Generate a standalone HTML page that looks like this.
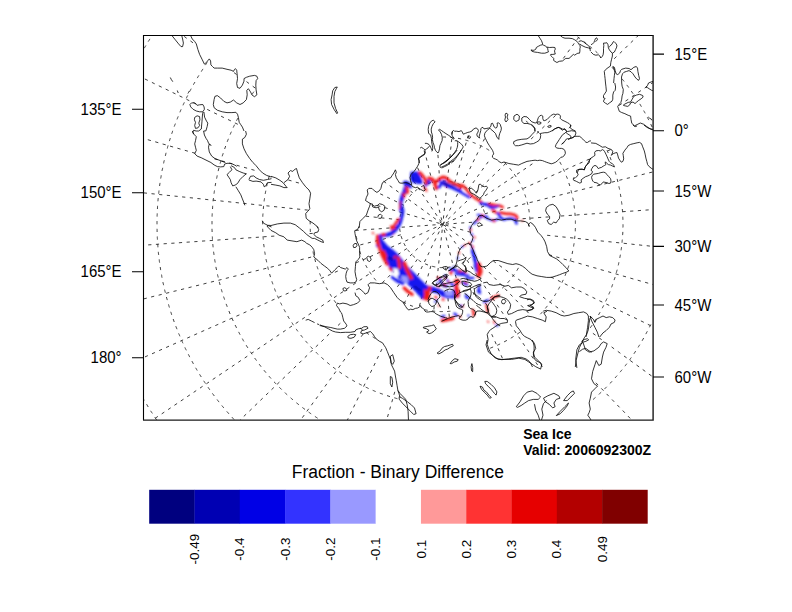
<!DOCTYPE html><html><head><meta charset="utf-8"><style>html,body{margin:0;padding:0;background:#fff;width:792px;height:612px;overflow:hidden}svg{display:block}text{font-family:"Liberation Sans",Arial,sans-serif}</style></head><body>
<svg width="792" height="612" viewBox="0 0 792 612">
<rect width="792" height="612" fill="#fff"/>
<defs><filter id="bl" x="-5%" y="-5%" width="110%" height="110%"><feGaussianBlur stdDeviation="0.85"/></filter><clipPath id="c"><rect x="143.0" y="35.0" width="510.0" height="385.0"/></clipPath></defs>
<g clip-path="url(#c)">
<path d="M406.9 248.5L404.2 250.3M400.5 252.8L397.9 254.6M394.1 257.1L391.5 258.9M387.7 261.4L385.1 263.2M381.4 265.7L378.7 267.5M375.0 270.0L372.3 271.8M368.6 274.4L365.9 276.1M362.2 278.7L359.6 280.4M355.8 283.0L353.2 284.8M349.4 287.3L346.8 289.1M343.1 291.6L340.4 293.4M336.7 295.9L334.0 297.7M330.3 300.2L327.6 302.0M323.9 304.5L321.3 306.3M317.5 308.8L314.9 310.6M311.1 313.1L308.5 314.9M304.8 317.4L302.1 319.2M298.4 321.7L295.7 323.5M292.0 326.0L289.3 327.8M285.6 330.3L283.0 332.1M279.2 334.6L276.6 336.4M272.8 338.9L270.2 340.7M266.5 343.2L263.8 345.0M260.1 347.5L257.4 349.3M253.7 351.9L251.0 353.6M247.3 356.2L244.7 358.0M240.9 360.5L238.3 362.3M234.5 364.8L231.9 366.6M228.2 369.1L225.5 370.9M221.8 373.4L219.1 375.2M215.4 377.7L212.7 379.5M209.0 382.0L206.4 383.8M202.6 386.3L200.0 388.1M196.2 390.6L193.6 392.4M189.9 394.9L187.2 396.7M183.5 399.2L180.8 401.0M177.1 403.5L174.4 405.3M170.7 407.8L168.1 409.6M164.3 412.1L161.7 413.9M157.9 416.4L155.3 418.2M440.0 227.0L437.7 229.2M434.5 232.4L432.2 234.6M428.9 237.7L426.6 239.9M423.4 243.1L421.1 245.3M417.8 248.4L415.5 250.6M412.3 253.8L410.0 256.0M406.8 259.1L404.5 261.3M401.2 264.5L398.9 266.7M395.7 269.8L393.4 272.0M390.1 275.1L387.8 277.4M384.6 280.5L382.3 282.7M340.3 323.3L338.0 325.5M329.2 334.0L326.9 336.2M323.7 339.3L321.4 341.6M318.1 344.7L315.8 346.9M312.6 350.0L310.3 352.3M307.1 355.4L304.8 357.6M301.5 360.7L299.2 363.0M296.0 366.1L293.7 368.3M290.4 371.4L288.1 373.7M284.9 376.8L282.6 379.0M279.4 382.1L277.1 384.3M273.8 387.5L271.5 389.7M268.3 392.8L266.0 395.0M262.7 398.2L260.4 400.4M257.2 403.5L254.9 405.7M251.7 408.9L249.4 411.1M246.1 414.2L243.8 416.4M240.6 419.6L240.1 420.0M417.3 259.3L415.5 261.9M412.8 265.6L410.9 268.2M408.3 271.8L406.4 274.4M403.8 278.0L401.9 280.6M399.2 284.3L397.4 286.8M363.0 334.1L361.2 336.7M358.5 340.3L356.6 342.9M354.0 346.5L352.1 349.1M349.5 352.8L347.6 355.4M344.9 359.0L343.0 361.6M340.4 365.2L338.5 367.8M335.9 371.5L334.0 374.1M331.4 377.7L329.5 380.3M326.8 383.9L324.9 386.5M322.3 390.2L320.4 392.7M317.8 396.4L315.9 399.0M313.2 402.6L311.4 405.2M308.7 408.8L306.8 411.4M304.2 415.1L302.3 417.7M442.7 224.6L441.3 227.4M439.3 231.5L437.9 234.4M435.9 238.4L434.5 241.3M432.5 245.3L431.1 248.2M429.2 252.3L427.8 255.1M425.8 259.2L424.4 262.0M422.4 266.1L421.0 269.0M419.0 273.0L417.6 275.9M415.7 279.9L414.3 282.8M412.3 286.9L410.9 289.7M408.9 293.8L407.5 296.7M405.5 300.7L404.1 303.6M381.9 349.1L380.5 352.0M378.5 356.1L377.1 358.9M375.2 363.0L373.8 365.9M371.8 369.9L370.4 372.8M368.4 376.8L367.0 379.7M365.0 383.7L363.6 386.6M361.7 390.7L360.3 393.5M358.3 397.6L356.9 400.5M354.9 404.5L353.5 407.4M351.5 411.4L350.1 414.3M348.2 418.3L347.4 420.0M430.9 265.9L430.0 269.0M428.7 273.3L427.9 276.4M426.6 280.7L425.7 283.8M424.5 288.1L423.6 291.2M422.4 295.5L421.5 298.6M420.3 302.9L419.4 306.0M394.8 391.8L393.9 394.8M392.7 399.2L391.8 402.2M390.5 406.6L389.7 409.6M388.4 414.0L387.5 417.0M442.8 224.3L442.7 225.2M442.2 229.7L441.9 232.9M441.4 237.3L441.1 240.5M440.6 245.0L440.3 248.2M439.8 252.6L439.5 255.8M439.0 260.3L438.7 263.5M438.2 268.0L437.9 271.1M437.4 275.6L437.1 278.8M436.6 283.3L436.3 286.5M434.2 306.2L433.9 309.4M445.8 267.5L446.0 270.7M446.4 275.2L446.6 278.4M447.4 290.5L447.7 293.7M448.0 298.2L448.2 301.4M448.5 305.9L448.7 309.1M449.0 313.6L449.3 316.8M442.8 224.3L443.1 225.6M444.2 229.9L445.0 233.0M446.1 237.4L446.8 240.5M447.9 244.9L448.7 248.0M449.8 252.3L450.6 255.4M451.7 259.8L452.4 262.9M453.5 267.3L454.3 270.4M455.4 274.8L456.2 277.9M457.2 282.2L458.0 285.3M459.1 289.7L459.9 292.8M463.5 270.9L464.8 273.8M466.7 277.9L468.0 280.9M469.8 285.0L471.1 287.9M472.9 292.0L474.2 294.9M491.7 334.2L493.0 337.1M494.9 341.2L496.2 344.2M498.0 348.3L499.3 351.2M501.1 355.3L502.4 358.2M442.8 224.3L442.9 224.5M445.4 228.2L447.2 230.8M449.7 234.6L451.5 237.2M454.0 241.0L455.8 243.6M458.3 247.3L460.1 250.0M462.7 253.7L464.4 256.4M467.0 260.1L468.7 262.8M471.3 266.5L473.1 269.2M475.6 272.9L477.4 275.5M479.9 279.3L481.7 281.9M484.2 285.6L486.0 288.3M488.5 292.0L490.3 294.7M492.8 298.4L494.6 301.1M497.1 304.8L498.9 307.5M501.4 311.2L503.2 313.8M505.7 317.6L507.5 320.2M510.0 324.0L511.8 326.6M514.3 330.3L516.1 333.0M518.6 336.7L520.4 339.4M522.9 343.1L524.7 345.8M527.2 349.5L529.0 352.1M531.5 355.9L533.3 358.5M535.8 362.3L537.6 364.9M472.9 255.5L475.1 257.8M483.6 266.5L485.8 268.8M488.9 272.1L491.2 274.4M494.3 277.6L496.5 279.9M499.6 283.1L501.9 285.4M505.0 288.7L507.2 291.0M510.3 294.2L512.5 296.5M515.7 299.8L517.9 302.1M521.0 305.3L523.2 307.6M526.4 310.8L528.6 313.1M595.9 382.8L598.1 385.1M601.3 388.4L603.5 390.7M606.6 393.9L608.8 396.2M612.0 399.5L614.2 401.8M617.3 405.0L619.5 407.3M622.7 410.5L624.9 412.8M628.0 416.1L630.2 418.4M443.4 224.7L446.0 226.6M449.6 229.2L452.2 231.1M455.8 233.8L458.4 235.6M462.1 238.3L464.6 240.2M468.3 242.8L470.9 244.7M493.2 260.9L495.8 262.8M499.4 265.4L502.0 267.3M505.7 270.0L508.2 271.9M511.9 274.5L514.5 276.4M518.1 279.0L520.7 280.9M524.3 283.5L526.9 285.4M530.6 288.1L533.2 290.0M536.8 292.6L539.4 294.5M543.0 297.1L545.6 299.0M549.3 301.7L551.9 303.5M555.5 306.2L558.1 308.1M561.7 310.7L564.3 312.6M592.9 333.3L595.5 335.2M599.1 337.9L601.7 339.7M611.6 346.9L614.1 348.8M617.8 351.4L620.4 353.3M624.0 356.0L626.6 357.8M630.2 360.5L632.8 362.4M636.5 365.0L639.1 366.9M642.7 369.5L645.3 371.4M648.9 374.1L651.5 375.9M550.9 277.0L553.8 278.4M557.9 280.4L560.7 281.8M564.8 283.8L567.6 285.2M571.7 287.2L574.6 288.6M578.6 290.5L581.5 291.9M585.5 293.9L588.4 295.3M592.5 297.3L595.3 298.7M599.4 300.7L602.3 302.1M606.3 304.0L609.2 305.4M613.2 307.4L616.1 308.8M620.1 310.8L623.0 312.2M627.1 314.2L629.9 315.6M634.0 317.5L636.9 318.9M640.9 320.9L643.8 322.3M647.8 324.3L650.7 325.7M445.3 225.0L448.4 225.9M452.7 227.1L455.8 228.0M460.1 229.3L463.2 230.1M467.5 231.4L470.6 232.3M548.9 254.7L552.0 255.6M556.3 256.9L559.4 257.7M563.7 259.0L566.8 259.9M571.1 261.1L574.2 262.0M578.5 263.2L581.6 264.1M585.9 265.3L589.0 266.2M593.3 267.5L596.4 268.3M600.7 269.6L603.8 270.5M608.1 271.7L611.2 272.6M615.5 273.8L618.6 274.7M622.9 276.0L626.0 276.8M630.3 278.1L633.4 279.0M637.7 280.2L640.8 281.1M645.1 282.3L648.2 283.2M652.5 284.4L653.0 284.6M547.1 235.3L550.3 235.6M554.8 236.1L558.0 236.4M562.4 236.9L565.6 237.2M570.1 237.7L573.3 238.0M577.8 238.5L580.9 238.8M585.4 239.3L588.6 239.6M593.1 240.1L596.3 240.4M600.7 240.9L603.9 241.2M608.4 241.7L611.6 242.0M616.1 242.5L619.2 242.8M623.7 243.3L626.9 243.6M631.4 244.1L634.6 244.5M639.0 244.9L642.2 245.3M646.7 245.7L649.9 246.1M445.8 224.1L449.0 223.9M453.5 223.6L456.7 223.3M461.2 223.0L464.3 222.8M468.8 222.5L472.0 222.3M514.9 219.3L518.1 219.0M522.6 218.7L525.8 218.5M530.3 218.2L533.5 218.0M538.0 217.6L541.2 217.4M545.6 217.1L548.8 216.9M561.0 216.0L564.2 215.8M568.7 215.5L571.9 215.3M576.4 215.0L579.6 214.7M584.1 214.4L587.2 214.2M591.7 213.9L594.9 213.7M599.4 213.3L602.6 213.1M607.1 212.8L610.3 212.6M614.8 212.3L618.0 212.1M622.5 211.7L625.7 211.5M630.1 211.2L633.3 211.0M637.8 210.7L641.0 210.4M645.5 210.1L648.7 209.9M484.8 213.8L487.9 213.0M492.3 212.0L495.4 211.2M499.8 210.1L502.9 209.3M507.2 208.2L510.3 207.5M514.7 206.4L517.8 205.6M522.2 204.5L525.3 203.7M529.6 202.6L532.8 201.9M537.1 200.8L540.2 200.0M544.6 198.9L547.7 198.1M552.1 197.1L555.2 196.3M559.5 195.2L562.6 194.4M567.0 193.3L570.1 192.6M574.5 191.5L577.6 190.7M581.9 189.6L585.1 188.8M589.4 187.7L592.5 187.0M596.9 185.9L600.0 185.1M604.4 184.0L607.5 183.2M611.8 182.2L614.9 181.4M619.3 180.3L622.4 179.5M626.8 178.4L629.9 177.7M634.2 176.6L637.4 175.8M641.7 174.7L644.8 173.9M649.2 172.8L652.3 172.1M445.9 222.9L448.8 221.6M452.9 219.8L455.9 218.5M460.0 216.7L462.9 215.4M467.0 213.5L469.9 212.2M474.0 210.4L477.0 209.1M481.1 207.3L484.0 206.0M488.1 204.1L491.0 202.8M495.1 201.0L498.1 199.7M502.2 197.9L505.1 196.6M509.2 194.7L512.1 193.4M516.2 191.6L519.2 190.3M523.3 188.5L526.2 187.2M530.3 185.3L533.2 184.0M537.4 182.2L540.3 180.9M544.4 179.1L547.3 177.8M551.4 175.9L554.3 174.6M558.5 172.8L561.4 171.5M565.5 169.7L568.4 168.4M572.5 166.5L575.4 165.2M579.6 163.4L582.5 162.1M586.6 160.3L589.5 159.0M607.7 150.9L610.6 149.6M478.7 200.1L481.4 198.3M485.1 195.8L487.7 194.0M491.5 191.5L494.1 189.7M497.9 187.2L500.5 185.4M504.2 182.9L506.9 181.1M510.6 178.6L513.3 176.8M517.0 174.2L519.7 172.5M523.4 169.9L526.0 168.2M529.8 165.6L532.4 163.8M561.7 144.1L564.3 142.3M568.1 139.8L570.7 138.0M619.1 105.4L621.8 103.6M625.5 101.1L628.2 99.3M631.9 96.7L634.6 95.0M638.3 92.4L640.9 90.6M644.7 88.1L647.3 86.3M651.1 83.8L653.0 82.5M442.8 224.3L444.8 222.4M448.1 219.2L450.4 217.0M453.6 213.9L455.9 211.7M459.1 208.5L461.4 206.3M464.7 203.2L467.0 201.0M470.2 197.8L472.5 195.6M475.7 192.5L478.0 190.3M481.3 187.1L483.6 184.9M486.8 181.8L489.1 179.6M492.4 176.4L494.7 174.2M497.9 171.1L500.2 168.9M503.4 165.7L505.7 163.5M531.1 139.0L533.4 136.8M536.7 133.6L539.0 131.4M542.2 128.3L544.5 126.1M547.8 122.9L550.1 120.7M553.3 117.6L555.6 115.4M614.2 58.8L616.5 56.5M619.8 53.4L622.1 51.2M625.3 48.1L627.6 45.8M630.8 42.7L633.1 40.5M636.4 37.4L638.7 35.1M468.3 189.3L470.1 186.7M472.8 183.0L474.7 180.4M477.3 176.8L479.2 174.2M481.8 170.6L483.7 168.0M486.4 164.3L488.2 161.8M563.3 58.4L565.2 55.9M567.8 52.2L569.7 49.6M572.4 46.0L574.2 43.4M576.9 39.8L578.8 37.2M442.8 224.3L444.1 221.6M446.1 217.6L447.5 214.7M449.5 210.6L450.9 207.8M452.8 203.7L454.2 200.8M456.2 196.8L457.6 193.9M459.6 189.9L461.0 187.0M463.0 183.0L464.4 180.1M466.3 176.0L467.7 173.2M469.7 169.1L471.1 166.2M473.1 162.2L474.5 159.3M476.5 155.3L477.9 152.4M479.8 148.4L481.2 145.5M483.2 141.4L484.6 138.6M454.7 182.7L455.6 179.6M456.9 175.3L457.7 172.2M459.0 167.9L459.9 164.8M461.1 160.5L462.0 157.4M463.2 153.1L464.1 150.0M465.3 145.7L466.2 142.6M467.5 138.3L468.4 135.2M442.8 224.3L442.9 223.1M443.4 218.6L443.7 215.4M444.2 211.0L444.5 207.8M445.0 203.3L445.3 200.1M445.8 195.7L446.1 192.5M446.6 188.0L446.9 184.8M447.4 180.3L447.8 177.2M448.2 172.7L448.6 169.5M449.0 165.0L449.4 161.8M449.8 157.4L450.2 154.2M450.6 149.7L451.0 146.5M451.4 142.1L451.8 138.9M452.2 134.4L452.6 131.2M439.8 181.1L439.6 177.9M439.2 173.4L439.0 170.2M438.7 165.7L438.5 162.5M438.2 158.1L437.9 154.9M441.8 220.4L441.1 217.3M440.0 212.9L439.2 209.8M438.1 205.5L437.3 202.4M436.2 198.0L435.5 194.9M434.4 190.5L433.6 187.4M432.5 183.1L431.7 180.0M430.7 175.6L429.9 172.5M428.8 168.1L428.0 165.0M426.9 160.6L426.2 157.5M425.2 184.7L423.9 181.8M422.1 177.7L420.8 174.8M418.9 170.7L417.6 167.7M441.3 222.1L439.6 219.5M437.0 215.8L435.3 213.1M432.7 209.4L430.9 206.7M428.4 203.0L426.6 200.3M424.1 196.6L422.3 194.0M419.8 190.2L418.0 187.6M415.5 183.8L413.7 181.2M412.7 193.1L410.5 190.8M407.4 187.6L405.1 185.3M442.2 223.8L439.6 221.9M435.9 219.3L433.3 217.4M429.7 214.8L427.1 212.9M423.5 210.3L420.9 208.4M417.2 205.7L414.6 203.8M411.0 201.2L408.4 199.3M404.8 196.7L402.2 194.8M398.5 192.1L396.0 190.3M392.3 187.6L389.7 185.7M386.1 183.1L383.5 181.2M255.3 88.1L252.7 86.2M249.0 83.5L246.5 81.6M236.6 74.5L234.0 72.6M193.0 42.8L190.4 40.9M186.7 38.3L184.2 36.4M403.9 205.3L401.0 203.9M397.0 201.9L394.1 200.5M390.0 198.6L387.2 197.2M383.1 195.2L380.2 193.8M237.8 124.3L234.9 122.9M230.9 120.9L228.0 119.5M223.9 117.6L221.1 116.2M217.0 114.2L214.1 112.8M210.1 110.8L207.2 109.4M196.3 104.1L193.4 102.6M189.3 100.7L186.5 99.3M182.4 97.3L179.5 95.9M175.5 93.9L172.6 92.5M168.6 90.5L165.7 89.1M161.7 87.2L158.8 85.8M154.7 83.8L151.9 82.4M147.8 80.4L144.9 79.0M439.5 223.4L436.5 222.5M432.1 221.2L429.1 220.4M424.7 219.1L421.7 218.2M417.3 217.0L414.3 216.1M409.9 214.9L406.8 214.0M402.5 212.8L399.4 211.9M395.1 210.6L392.0 209.7M387.7 208.5L384.6 207.6M380.3 206.4L377.2 205.5M372.9 204.3L369.8 203.4M298.9 183.0L295.8 182.2M291.5 180.9L288.4 180.0M254.5 170.3L251.4 169.4M247.1 168.2L244.0 167.3M239.7 166.1L236.6 165.2M232.3 163.9L229.2 163.1M224.9 161.8L221.8 160.9M217.5 159.7L214.4 158.8M195.3 153.3L192.2 152.4M187.9 151.2L184.8 150.3M180.5 149.1L177.4 148.2M173.1 147.0L170.0 146.1M165.7 144.8L162.6 144.0M158.3 142.7L155.2 141.8M150.9 140.6L147.8 139.7M143.5 138.5L143.0 138.3M399.7 219.8L396.5 219.4M392.1 219.0L388.9 218.6M384.4 218.2L381.2 217.8M376.8 217.4L373.6 217.0M369.1 216.6L365.9 216.2M307.8 210.1L304.7 209.8M300.2 209.3L297.0 209.0M292.5 208.5L289.3 208.2M284.9 207.7L281.7 207.4M277.2 206.9L274.0 206.6M269.5 206.1L266.4 205.8M261.9 205.3L258.7 205.0M254.2 204.5L251.0 204.1M246.6 203.7L243.4 203.3M238.9 202.9L235.7 202.5M231.3 202.1L228.1 201.7M223.6 201.3L220.4 200.9M215.9 200.5L212.8 200.1M208.3 199.7L205.1 199.3M200.6 198.8L197.4 198.5M193.0 198.0L189.8 197.7M185.3 197.2L182.1 196.9M177.7 196.4L174.5 196.1M170.0 195.6L166.8 195.3M162.3 194.8L159.2 194.5M154.7 194.0L151.5 193.7M147.0 193.2L143.8 192.9M442.8 224.3L440.1 224.5M435.6 224.8L432.4 225.0M427.9 225.3L424.7 225.6M420.3 225.9L417.1 226.1M412.6 226.4L409.4 226.6M404.9 227.0L401.7 227.2M397.2 227.5L394.0 227.7M389.5 228.0L386.3 228.2M381.8 228.6L378.7 228.8M374.2 229.1L371.0 229.3M366.5 229.6L363.3 229.9M358.8 230.2L355.6 230.4M312.7 233.4L309.5 233.6M274.3 236.1L271.1 236.3M266.6 236.6L263.4 236.8M258.9 237.2L255.8 237.4M251.3 237.7L248.1 237.9M243.6 238.2L240.4 238.5M235.9 238.8L232.7 239.0M228.2 239.3L225.0 239.5M220.5 239.8L217.4 240.1M212.9 240.4L209.7 240.6M205.2 240.9L202.0 241.1M197.5 241.5L194.3 241.7M189.8 242.0L186.6 242.2M182.1 242.5L178.9 242.8M174.5 243.1L171.3 243.3M166.8 243.6L163.6 243.8M159.1 244.1L155.9 244.4M151.4 244.7L148.2 244.9M143.7 245.2L143.0 245.3M400.8 234.8L397.7 235.6M393.3 236.6L390.2 237.4M385.8 238.5L382.7 239.3M378.4 240.4L375.3 241.1M370.9 242.2L367.8 243.0M363.4 244.1L360.3 244.9M311.1 257.1L308.0 257.9M303.7 259.0L300.5 259.8M296.2 260.9L293.1 261.6M288.7 262.7L285.6 263.5M281.2 264.6L278.1 265.4M273.8 266.4L270.7 267.2M266.3 268.3L263.2 269.1M258.8 270.2L255.7 270.9M251.4 272.0L248.2 272.8M243.9 273.9L240.8 274.7M236.4 275.8L233.3 276.5M228.9 277.6L225.8 278.4M221.5 279.5L218.4 280.3M214.0 281.3L210.9 282.1M206.5 283.2L203.4 284.0M199.1 285.1L196.0 285.8M191.6 286.9L188.5 287.7M184.1 288.8L181.0 289.6M176.6 290.7L173.5 291.4M169.2 292.5L166.1 293.3M161.7 294.4L158.6 295.2M154.2 296.2L151.1 297.0M146.8 298.1L143.7 298.9M442.8 224.3L440.4 225.4M436.3 227.2L433.4 228.5M429.3 230.3L426.4 231.6M422.2 233.5L419.3 234.8M415.2 236.6L412.3 237.9M408.2 239.7L405.3 241.0M401.1 242.8L398.2 244.1M394.1 246.0L391.2 247.3M387.1 249.1L384.2 250.4M380.0 252.2L377.1 253.5M373.0 255.4L370.1 256.7M366.0 258.5L363.0 259.8M358.9 261.6L356.0 262.9M337.8 271.0L334.9 272.3M330.8 274.2L327.9 275.5M323.8 277.3L320.8 278.6M316.7 280.4L313.8 281.7M309.7 283.6L306.8 284.9M302.7 286.7L299.7 288.0M295.6 289.8L292.7 291.1M288.6 293.0L285.7 294.3M281.6 296.1L278.6 297.4M274.5 299.2L271.6 300.5M267.5 302.4L264.6 303.7M260.5 305.5L257.5 306.8M253.4 308.6L250.5 309.9M246.4 311.7L243.5 313.0M239.4 314.9L236.4 316.2M232.3 318.0L229.4 319.3M225.3 321.1L222.4 322.4M218.3 324.3L215.3 325.6M211.2 327.4L208.3 328.7M204.2 330.5L201.3 331.8M197.1 333.7L194.2 335.0M190.1 336.8L187.2 338.1M183.1 339.9L180.2 341.2M176.0 343.1L173.1 344.4M169.0 346.2L166.1 347.5M162.0 349.3L159.1 350.6M154.9 352.5L152.0 353.8M147.9 355.6L145.0 356.9M144.2 48.2L144.8 47.3L145.3 46.4L145.9 45.5M148.2 41.6L148.8 40.7L149.4 39.8L149.9 38.9M156.6 419.9L156.0 419.0L155.4 418.1L154.8 417.2M152.4 413.4L151.8 412.6L151.2 411.7L150.6 410.8M148.2 407.0L147.7 406.0L147.1 405.1L146.6 404.2M144.2 400.4L143.7 399.5L143.2 398.5L142.6 397.6M157.0 224.3L157.0 223.2L157.0 222.2L157.0 221.1M157.1 216.6L157.1 215.6L157.2 214.5L157.2 213.4M157.4 209.0L157.5 207.9L157.5 206.8L157.6 205.8M157.9 201.3L158.0 200.2L158.1 199.2L158.2 198.1M158.7 193.7L158.8 192.6L158.9 191.6L159.0 190.5M159.6 186.0L159.7 185.0L159.9 183.9L160.0 182.9M160.7 178.5L160.9 177.4L161.1 176.4L161.2 175.3M162.0 170.9L162.2 169.9L162.5 168.8L162.7 167.8M163.6 163.4L163.8 162.3L164.0 161.3L164.3 160.3M165.3 155.9L165.6 154.9L165.8 153.8L166.1 152.8M167.3 148.5L167.5 147.5L167.8 146.4L168.1 145.4M169.4 141.1L169.7 140.1L170.0 139.1L170.3 138.1M171.7 133.8L172.1 132.8L172.4 131.8L172.7 130.8M174.2 126.6L174.6 125.6L175.0 124.6L175.4 123.6M177.0 119.4L177.4 118.4L177.8 117.4L178.2 116.4M179.9 112.3L180.3 111.3L180.7 110.3L181.1 109.4M183.0 105.3L183.4 104.3L183.9 103.3L184.3 102.4M186.3 98.3L186.7 97.4L187.2 96.4L187.7 95.5M189.7 91.5L190.2 90.5L190.7 89.6L191.2 88.7M193.4 84.7L193.9 83.8L194.4 82.9L195.0 82.0M197.2 78.1L197.8 77.2L198.3 76.3L198.9 75.4M201.3 71.6L201.8 70.7L202.4 69.8L203.0 68.9M205.4 65.1L206.0 64.2L206.6 63.4L207.2 62.5M234.0 419.5L233.3 418.7L232.6 417.9L231.9 417.1M228.9 413.8L228.2 413.0L227.5 412.2L226.8 411.4M223.9 408.0L223.2 407.2L222.5 406.4L221.8 405.5M219.0 402.1L218.4 401.2L217.7 400.4L217.1 399.5M214.3 396.0L213.7 395.1L213.1 394.3L212.4 393.4M209.8 389.8L209.2 388.9L208.6 388.1L208.0 387.2M205.4 383.5L204.9 382.6L204.3 381.7L203.7 380.8M201.3 377.0L200.7 376.1L200.1 375.2L199.6 374.3M197.2 370.5L196.7 369.6L196.2 368.7L195.6 367.8M193.4 363.9L192.9 362.9L192.4 362.0L191.9 361.1M189.7 357.1L189.3 356.2L188.8 355.2L188.3 354.3M186.3 350.3L185.8 349.3L185.3 348.4L184.9 347.4M183.0 343.3L182.5 342.4L182.1 341.4L181.7 340.4M179.9 336.3L179.5 335.3L179.1 334.4L178.6 333.4M177.0 329.2L176.6 328.2L176.2 327.2L175.8 326.2M174.2 322.0L173.9 321.0L173.5 320.0L173.2 319.0M171.7 314.8L171.4 313.8L171.1 312.8L170.7 311.8M169.4 307.5L169.1 306.5L168.8 305.5L168.5 304.4M167.3 300.1L167.0 299.1L166.7 298.1L166.4 297.0M165.3 292.7L165.1 291.7L164.8 290.6L164.6 289.6M163.6 285.2L163.4 284.2L163.1 283.1L162.9 282.1M162.0 277.7L161.8 276.7L161.7 275.6L161.5 274.6M160.7 270.1L160.5 269.1L160.4 268.0L160.2 267.0M159.6 262.6L159.4 261.5L159.3 260.4L159.2 259.4M158.7 254.9L158.5 253.9L158.4 252.8L158.3 251.8M157.9 247.3L157.9 246.2L157.8 245.2L157.7 244.1M157.4 239.6L157.4 238.6L157.3 237.5L157.3 236.5M157.1 232.0L157.1 230.9L157.1 229.8L157.0 228.8M212.0 224.3L212.0 223.2L212.0 222.2L212.0 221.1M212.1 216.6L212.1 215.6L212.2 214.5L212.2 213.4M212.5 209.0L212.6 207.9L212.6 206.8L212.7 205.8M213.1 201.3L213.2 200.3L213.3 199.2L213.5 198.1M214.0 193.7L214.2 192.6L214.3 191.6L214.5 190.5M215.2 186.1L215.3 185.1L215.5 184.0L215.7 183.0M216.6 178.6L216.8 177.5L217.0 176.5L217.2 175.4M218.2 171.1L218.4 170.0L218.7 169.0L219.0 168.0M220.1 163.6L220.4 162.6L220.7 161.6L221.0 160.6M222.2 156.3L222.5 155.2L222.9 154.2L223.2 153.2M224.6 149.0L225.0 148.0L225.3 147.0L225.7 146.0M227.2 141.8L227.6 140.8L228.0 139.8L228.4 138.8M230.1 134.6L230.5 133.7L230.9 132.7L231.4 131.7M233.2 127.6L233.6 126.7L234.1 125.7L234.6 124.7M236.5 120.7L237.0 119.8L237.5 118.8L238.0 117.9M252.1 94.3L252.7 93.4L253.3 92.5L253.9 91.7M577.5 36.9L578.4 37.5L579.3 38.1L580.1 38.8M583.7 41.5L584.5 42.1L585.4 42.8L586.2 43.4M589.7 46.3L590.5 46.9L591.3 47.6L592.1 48.3M595.5 51.2L596.3 51.9L597.1 52.6L597.9 53.4M612.0 67.3L612.7 68.1L613.4 68.9L614.2 69.7M622.1 78.9L622.7 79.7L623.4 80.5L624.1 81.4M626.8 84.9L627.4 85.8L628.1 86.6L628.7 87.5M631.3 91.1L631.9 92.0L632.5 92.9L633.1 93.7M639.8 103.9L640.3 104.8L640.9 105.8L641.4 106.7M643.7 110.6L644.2 111.5L644.7 112.4L645.2 113.3M647.3 117.3L647.8 118.2L648.3 119.2L648.8 120.1M650.8 124.1L651.2 125.1L651.7 126.1L652.1 127.0M650.8 324.5L650.3 325.4L649.8 326.4L649.4 327.3M647.3 331.3L646.8 332.2L646.3 333.2L645.8 334.1M643.7 338.0L643.1 339.0L642.6 339.9L642.1 340.8M639.8 344.7L639.2 345.6L638.6 346.5L638.1 347.4M635.6 351.1L635.1 352.0L634.5 352.9L633.9 353.8M631.3 357.5L630.7 358.3L630.1 359.2L629.5 360.1M626.8 363.7L626.2 364.5L625.5 365.4L624.9 366.2M622.1 369.7L621.4 370.5L620.7 371.4L620.0 372.2M617.1 375.6L616.4 376.4L615.7 377.2L615.0 378.0M612.0 381.3L611.3 382.1L610.6 382.9L609.8 383.6M606.7 386.8L605.9 387.6L605.2 388.3L604.4 389.1M601.2 392.2L600.4 392.9L599.6 393.6L598.9 394.4M595.5 397.4L594.7 398.1L593.9 398.8L593.1 399.5M317.6 418.2L316.7 417.6L315.8 417.0L314.9 416.4M311.2 413.9L310.3 413.3L309.5 412.7L308.6 412.1M305.0 409.4L304.1 408.8L303.3 408.2L302.4 407.5M298.9 404.8L298.1 404.1L297.2 403.4L296.4 402.8M293.0 399.9L292.2 399.2L291.4 398.5L290.6 397.8M287.2 394.8L286.4 394.1L285.6 393.4L284.9 392.6M281.6 389.5L280.9 388.8L280.1 388.0L279.4 387.3M276.2 384.1L275.5 383.3L274.8 382.5L274.0 381.8M271.0 378.5L270.3 377.7L269.6 376.9L268.9 376.1M266.0 372.7L265.3 371.9L264.6 371.0L263.9 370.2M261.1 366.7L260.5 365.9L259.8 365.0L259.2 364.2M256.5 360.6L255.9 359.7L255.3 358.9L254.6 358.0M252.1 354.3L251.5 353.4L250.9 352.6L250.3 351.7M247.9 347.9L247.3 347.0L246.7 346.1L246.2 345.2M243.9 341.4L243.3 340.5L242.8 339.5L242.3 338.6M240.1 334.7L239.6 333.8L239.1 332.8L238.6 331.9M236.5 327.9L236.1 326.9L235.6 326.0L235.1 325.0M233.2 321.0L232.8 320.0L232.3 319.0L231.9 318.1M230.1 314.0L229.7 313.0L229.3 312.0L228.9 311.0M227.2 306.8L226.9 305.8L226.5 304.9L226.1 303.9M224.6 299.6L224.3 298.6L223.9 297.6L223.6 296.6M222.2 292.3L221.9 291.3L221.6 290.3L221.3 289.3M220.1 285.0L219.8 283.9L219.5 282.9L219.3 281.9M218.2 277.5L218.0 276.5L217.7 275.5L217.5 274.4M216.6 270.0L216.3 269.0L216.1 268.0L215.9 266.9M215.2 262.5L215.0 261.4L214.8 260.4L214.7 259.3M214.0 254.9L213.9 253.8L213.7 252.8L213.6 251.7M213.1 247.3L213.0 246.2L212.9 245.2L212.8 244.1M212.5 239.6L212.4 238.6L212.4 237.5L212.3 236.5M212.1 232.0L212.1 230.9L212.0 229.8L212.0 228.8M262.6 224.3L262.6 223.2L262.6 222.2L262.7 221.1M262.8 216.7L262.8 215.6L262.9 214.5L263.0 213.5M263.3 209.0L263.4 208.0L263.5 206.9L263.6 205.9M264.1 201.4L264.2 200.4L264.4 199.3L264.5 198.3M265.2 193.9L265.4 192.8L265.6 191.8L265.8 190.7M266.7 186.3L266.9 185.3L267.1 184.3L267.4 183.2M268.4 178.9L268.7 177.9L269.0 176.9L269.3 175.8M607.0 150.1L607.4 151.1L607.8 152.0L608.3 153.0M610.0 157.1L610.4 158.1L610.8 159.1L611.1 160.1M615.1 171.5L615.4 172.6L615.7 173.6L616.0 174.6M617.2 178.9L617.4 179.9L617.7 181.0L617.9 182.0M618.9 186.3L619.1 187.4L619.4 188.4L619.6 189.5M620.4 193.9L620.5 194.9L620.7 195.9L620.9 197.0M621.5 201.4L621.6 202.5L621.8 203.5L621.9 204.6M622.3 209.0L622.4 210.1L622.5 211.1L622.6 212.2M622.8 216.7L622.8 217.7L622.9 218.8L622.9 219.8M623.0 224.3L623.0 225.4L623.0 226.4L622.9 227.5M622.8 231.9L622.8 233.0L622.7 234.1L622.6 235.1M622.3 239.6L622.2 240.6L622.1 241.7L622.0 242.7M621.5 247.2L621.4 248.2L621.2 249.3L621.1 250.3M620.4 254.7L620.2 255.8L620.0 256.8L619.8 257.9M618.9 262.3L618.7 263.3L618.5 264.3L618.2 265.4M617.2 269.7L616.9 270.7L616.6 271.7L616.3 272.8M615.1 277.1L614.8 278.1L614.4 279.1L614.1 280.1M612.7 284.3L612.3 285.3L612.0 286.3L611.6 287.3M610.0 291.5L609.6 292.5L609.2 293.4L608.8 294.4M607.0 298.5L606.5 299.5L606.1 300.4L605.6 301.4M603.7 305.4L603.2 306.4L602.7 307.3L602.2 308.2M600.1 312.2L599.6 313.1L599.0 314.0L598.5 314.9M596.2 318.8L595.7 319.7L595.1 320.6L594.5 321.5M592.1 325.2L591.5 326.1L590.9 326.9L590.3 327.8M397.4 398.7L396.4 398.4L395.4 398.1L394.3 397.8M390.0 396.6L389.0 396.3L388.0 395.9L387.0 395.6M382.8 394.2L381.8 393.8L380.8 393.5L379.8 393.1M375.6 391.5L374.6 391.1L373.7 390.7L372.7 390.3M368.6 388.5L367.6 388.0L366.7 387.6L365.7 387.1M361.7 385.2L360.7 384.7L359.8 384.2L358.9 383.7M354.9 381.6L354.0 381.1L353.1 380.5L352.2 380.0M348.3 377.7L347.4 377.2L346.5 376.6L345.6 376.0M341.9 373.6L341.0 373.0L340.2 372.4L339.3 371.8M335.7 369.2L334.8 368.5L334.0 367.9L333.1 367.2M329.6 364.5L328.8 363.8L328.0 363.1L327.2 362.5M323.8 359.5L323.0 358.8L322.2 358.1L321.4 357.4M318.1 354.4L317.4 353.6L316.6 352.9L315.9 352.2M312.7 349.0L312.0 348.2L311.3 347.4L310.5 346.6M307.6 343.3L306.9 342.5L306.2 341.7L305.5 340.9M302.6 337.5L302.0 336.7L301.3 335.8L300.6 335.0M297.9 331.4L297.3 330.6L296.7 329.7L296.1 328.9M293.5 325.2L292.9 324.3L292.4 323.4L291.8 322.5M289.4 318.8L288.8 317.9L288.3 317.0L287.7 316.0M285.5 312.2L285.0 311.2L284.5 310.3L284.0 309.4M281.9 305.4L281.5 304.5L281.0 303.5L280.5 302.6M278.6 298.5L278.2 297.5L277.8 296.6L277.3 295.6M275.6 291.5L275.2 290.5L274.8 289.5L274.5 288.5M272.9 284.3L272.6 283.3L272.2 282.3L271.9 281.3M270.5 277.1L270.2 276.0L269.9 275.0L269.6 274.0M268.4 269.7L268.2 268.7L267.9 267.6L267.7 266.6M266.7 262.3L266.5 261.2L266.2 260.2L266.0 259.1M265.2 254.7L265.1 253.7L264.9 252.7L264.7 251.6M264.1 247.2L264.0 246.1L263.8 245.1L263.7 244.0M263.3 239.6L263.2 238.5L263.1 237.5L263.0 236.4M262.8 231.9L262.8 230.9L262.7 229.8L262.7 228.8M310.2 224.3L310.2 223.2L310.2 222.2L310.2 221.1M525.9 120.9L526.7 121.6L527.6 122.3L528.4 123.0M537.3 131.2L538.0 131.9L538.7 132.7L539.5 133.5M559.8 161.9L560.3 162.8L560.8 163.8L561.3 164.7M563.2 168.7L563.7 169.7L564.1 170.7L564.5 171.6M566.2 175.8L566.6 176.7L567.0 177.7L567.4 178.7M568.8 183.0L569.2 184.0L569.5 185.0L569.8 186.0M571.0 190.3L571.3 191.3L571.5 192.3L571.8 193.4M572.7 197.7L573.0 198.8L573.2 199.8L573.3 200.8M574.1 205.3L574.2 206.3L574.3 207.4L574.5 208.4M574.9 212.8L575.0 213.9L575.1 215.0L575.2 216.0M575.4 220.5L575.4 221.5L575.4 222.6L575.4 223.7M575.4 228.1L575.3 229.2L575.3 230.2L575.3 231.3M574.9 235.8L574.8 236.8L574.7 237.9L574.6 238.9M574.1 243.3L573.9 244.4L573.7 245.4L573.6 246.5M572.7 250.9L572.5 251.9L572.3 253.0L572.1 254.0M571.0 258.3L570.7 259.3L570.4 260.4L570.1 261.4M568.8 265.6L568.5 266.7L568.1 267.7L567.8 268.7M566.2 272.8L565.8 273.8L565.4 274.8L565.0 275.8M563.2 279.9L562.8 280.8L562.3 281.8L561.9 282.7M559.8 286.7L559.3 287.7L558.8 288.6L558.3 289.5M556.0 293.4L555.5 294.3L554.9 295.2L554.4 296.0M551.9 299.8L551.3 300.6L550.7 301.5L550.0 302.4M547.3 305.9L546.7 306.8L546.0 307.6L545.4 308.4M542.5 311.8L541.8 312.6L541.1 313.4L540.3 314.2M519.8 332.3L519.0 332.9L518.1 333.5L517.2 334.1M513.5 336.5L512.6 337.1L511.7 337.6L510.8 338.2M506.9 340.4L506.0 340.9L505.0 341.4L504.1 341.9M500.1 343.9L499.1 344.4L498.2 344.8L497.2 345.3M493.1 347.0L492.1 347.4L491.1 347.8L490.2 348.2M375.4 338.5L374.5 338.0L373.6 337.4L372.7 336.9M368.9 334.4L368.0 333.9L367.2 333.3L366.3 332.6M362.7 330.0L361.8 329.4L361.0 328.7L360.2 328.1M335.9 302.9L335.3 302.0L334.7 301.2L334.1 300.3M331.6 296.6L331.0 295.7L330.5 294.8L329.9 293.9M327.6 290.1L327.1 289.1L326.6 288.2L326.1 287.3M324.0 283.3L323.6 282.4L323.1 281.4L322.6 280.5M320.8 276.4L320.4 275.4L320.0 274.4L319.6 273.4M318.0 269.3L317.7 268.3L317.3 267.3L317.0 266.3M315.6 262.0L315.3 261.0L315.1 260.0L314.8 258.9M313.7 254.6L313.4 253.6L313.2 252.5L313.0 251.5M310.4 231.9L310.3 230.9L310.3 229.8L310.2 228.8M442.8 137.0L443.9 137.0L444.9 137.0L446.0 137.1M450.4 137.4L451.5 137.4L452.5 137.6L453.6 137.7M458.0 138.3L459.0 138.5L460.0 138.7L461.1 139.0M465.4 140.0L466.4 140.3L467.4 140.6L468.4 140.9M472.7 142.3L473.6 142.6L474.6 143.0L475.6 143.4M479.7 145.2L480.6 145.6L481.6 146.1L482.5 146.6M486.4 148.7L487.4 149.2L488.3 149.8L489.2 150.3M504.5 162.6L505.3 163.3L506.0 164.1L506.7 164.9M509.7 168.2L510.3 169.0L511.0 169.8L511.7 170.7M514.3 174.2L514.9 175.1L515.5 176.0L516.1 176.9M518.4 180.7L518.9 181.6L519.4 182.5L519.9 183.4M521.9 187.4L522.3 188.4L522.8 189.3L523.2 190.3M524.8 194.4L525.2 195.4L525.5 196.4L525.8 197.4M527.1 201.7L527.4 202.7L527.6 203.8L527.9 204.8M528.8 209.1L528.9 210.2L529.1 211.2L529.2 212.3M529.7 216.7L529.8 217.7L529.9 218.8L530.0 219.9M518.4 267.9L517.9 268.9L517.3 269.8L516.8 270.7M514.3 274.4L513.7 275.2L513.1 276.1L512.4 276.9M509.7 280.4L509.0 281.2L508.3 282.0L507.6 282.8M504.5 286.0L503.8 286.8L503.0 287.5L502.2 288.2M498.9 291.2L498.1 291.8L497.3 292.5L496.4 293.2M492.9 295.8L492.0 296.4L491.1 297.0L490.2 297.6M486.4 299.9L485.5 300.4L484.6 300.9L483.7 301.4M450.4 311.2L449.4 311.3L448.3 311.4L447.2 311.5M442.8 311.6L441.7 311.6L440.7 311.6L439.6 311.5M435.2 311.2L434.1 311.2L433.1 311.0L432.0 310.9M427.6 310.3L426.6 310.1L425.6 309.9L424.5 309.6M412.9 306.3L412.0 306.0L411.0 305.6L410.0 305.2M405.9 303.4L405.0 303.0L404.0 302.5L403.1 302.0M375.9 280.4L375.3 279.6L374.6 278.8L373.9 277.9M371.3 274.4L370.7 273.5L370.1 272.6L369.5 271.7M367.2 267.9L366.7 267.0L366.2 266.1L365.7 265.2M363.7 261.2L363.3 260.2L362.8 259.3L362.4 258.3M360.8 254.2L360.4 253.2L360.1 252.2L359.8 251.2M356.8 239.5L356.7 238.4L356.5 237.4L356.4 236.3M399.5 224.3L399.5 223.3L399.5 222.2L399.6 221.2M400.2 216.8L400.3 215.8L400.6 214.7L400.8 213.7M402.1 209.5L402.5 208.5L402.9 207.5L403.3 206.6M405.3 202.6L405.8 201.7L406.4 200.9L407.0 200.0M409.6 196.5L410.3 195.7L411.0 194.9L411.7 194.1M415.0 191.1L415.8 190.5L416.6 189.8L417.4 189.2M421.1 186.8L422.1 186.3L423.0 185.8L423.9 185.3M428.0 183.6L429.0 183.3L430.0 182.9L431.0 182.6M435.3 181.7L436.3 181.5L437.4 181.3L438.4 181.2M442.8 181.0L443.8 181.0L444.9 181.0L445.9 181.1M450.3 181.7L451.3 181.8L452.4 182.1L453.4 182.3M457.6 183.6L458.6 184.0L459.6 184.4L460.5 184.8M464.5 186.8L465.4 187.3L466.2 187.9L467.1 188.5M476.0 196.5L476.6 197.3L477.3 198.1L477.9 198.9M480.3 202.6L480.8 203.6L481.3 204.5L481.8 205.4M483.5 209.5L483.8 210.5L484.2 211.5L484.5 212.5M470.6 257.5L469.8 258.1L469.0 258.8L468.2 259.4M464.5 261.8L463.5 262.3L462.6 262.8L461.7 263.3M457.6 265.0L456.6 265.3L455.6 265.7L454.6 266.0M450.3 266.9L449.3 267.1L448.2 267.3L447.2 267.4M442.8 267.6L441.8 267.6L440.7 267.6L439.7 267.5M435.3 266.9L434.3 266.8L433.2 266.5L432.2 266.3M428.0 265.0L427.0 264.6L426.0 264.2L425.1 263.8M421.1 261.8L420.2 261.3L419.4 260.7L418.5 260.1M415.0 257.5L414.2 256.8L413.4 256.1L412.6 255.4M409.6 252.1L409.0 251.3L408.3 250.5L407.7 249.7M405.3 246.0L404.8 245.0L404.3 244.1L403.8 243.2M402.1 239.1L401.8 238.1L401.4 237.1L401.1 236.1M400.2 231.8L400.0 230.8L399.8 229.7L399.7 228.7" fill="none" stroke="#2a2a2a" stroke-width="0.9"/>
<g filter="url(#bl)"><polygon points="410.6,171.8 414.4,171.4 418.2,171.4 418.9,173.3 420.5,176.4 422.0,180.2 422.7,183.2 421.2,183.9 418.2,183.9 415.2,183.2 412.1,182.4 410.6,180.2 410.2,176.4 410.6,171.8" fill="#1414f0"/><polygon points="403.0,181.7 405.3,180.5 407.6,181.3 409.8,182.4 411.4,184.7 412.1,187.0 411.4,188.5 409.1,187.7 406.8,186.2 404.5,184.7 403.0,183.2" fill="#1414f0"/><polygon points="425.0,181.7 427.3,179.8 429.5,179.8 431.1,181.3 430.3,183.2 428.8,184.7 426.5,185.8 425.0,187.0 424.2,185.5" fill="#1414f0"/><polyline points="436.4,187.7 439.4,187.0 441.3,183.6 443.6,181.3 445.5,182.8 448.5,185.8 453.0,187.7 456.8,189.2 460.6,190.8" fill="none" stroke="#1414f0" stroke-width="2.7" stroke-linecap="round" stroke-linejoin="round"/><polyline points="405.3,191.5 403.8,195.3 402.3,199.1 401.1,202.9 400.8,207.4 400.4,210.5" fill="none" stroke="#1414f0" stroke-width="2.7" stroke-linecap="round" stroke-linejoin="round"/><polyline points="419.7,172.6 422.0,174.8 424.2,177.9 425.8,180.9 426.1,183.2" fill="none" stroke="#f01c1c" stroke-width="3.1" stroke-linecap="round" stroke-linejoin="round"/><polyline points="428.8,178.3 431.1,178.6 433.3,180.2 434.8,183.2 435.6,186.2 436.4,188.5" fill="none" stroke="#f01c1c" stroke-width="3.4" stroke-linecap="round" stroke-linejoin="round"/><polyline points="435.6,182.4 437.9,180.2 440.2,178.3 442.4,177.1 445.5,177.5 447.7,179.4 449.2,181.7" fill="none" stroke="#f01c1c" stroke-width="3.1" stroke-linecap="round" stroke-linejoin="round"/><polyline points="442.4,183.2 445.5,184.7 447.0,187.0" fill="none" stroke="#f01c1c" stroke-width="2.0" stroke-linecap="round" stroke-linejoin="round"/><polyline points="453.0,183.2 456.1,184.7 458.3,186.2 460.6,187.7" fill="none" stroke="#f01c1c" stroke-width="2.7" stroke-linecap="round" stroke-linejoin="round"/><polyline points="424.2,187.7 425.8,189.2 426.5,190.8" fill="none" stroke="#f01c1c" stroke-width="2.0" stroke-linecap="round" stroke-linejoin="round"/><polyline points="407.6,187.7 406.1,190.8 404.5,193.8 403.4,196.8" fill="none" stroke="#f01c1c" stroke-width="2.0" stroke-linecap="round" stroke-linejoin="round"/><polyline points="411.4,173.3 412.1,176.4 412.9,179.4 415.2,180.9" fill="none" stroke="#00008c" stroke-width="0.8" stroke-linecap="round" stroke-linejoin="round"/><polyline points="404.5,182.4 407.6,183.2 409.1,184.7" fill="none" stroke="#00008c" stroke-width="0.8" stroke-linecap="round" stroke-linejoin="round"/><polyline points="445.5,183.2 448.5,183.9 451.5,184.7 454.5,185.5" fill="none" stroke="#00008c" stroke-width="0.7" stroke-linecap="round" stroke-linejoin="round"/><polyline points="448.6,180.1 451.1,182.1 455.2,184.1 459.2,185.7 462.2,185.2 464.2,187.0 466.3,189.4 468.3,192.0 470.8,194.7 473.3,196.8 476.4,198.8 479.4,200.8 481.9,202.8" fill="none" stroke="#f01c1c" stroke-width="2.7" stroke-linecap="round" stroke-linejoin="round"/><polyline points="440.0,181.6 442.0,183.1 445.1,185.2 448.1,186.7 452.1,188.0 455.2,189.4 458.2,190.9 461.2,192.4 464.2,194.2 466.8,195.8 469.3,197.3" fill="none" stroke="#1414f0" stroke-width="2.3" stroke-linecap="round" stroke-linejoin="round"/><polyline points="444.0,184.1 448.1,184.1 452.1,185.2 456.2,186.2" fill="none" stroke="#00008c" stroke-width="0.9" stroke-linecap="round" stroke-linejoin="round"/><polyline points="480.4,203.3 483.4,203.8 486.5,204.8 489.5,205.9 492.5,206.4" fill="none" stroke="#1414f0" stroke-width="2.3" stroke-linecap="round" stroke-linejoin="round"/><polyline points="487.5,203.8 490.5,204.3 494.5,204.8" fill="none" stroke="#f01c1c" stroke-width="2.3" stroke-linecap="round" stroke-linejoin="round"/><polyline points="481.9,203.2 484.4,204.5 486.3,203.8 488.2,205.7 490.7,207.6 493.9,207.6 497.0,206.4 498.9,205.7" fill="none" stroke="#1414f0" stroke-width="2.3" stroke-linecap="round" stroke-linejoin="round"/><polyline points="489.5,203.8 492.6,204.5 495.2,205.1 497.0,205.1" fill="none" stroke="#f01c1c" stroke-width="2.0" stroke-linecap="round" stroke-linejoin="round"/><polyline points="499.6,205.7 501.5,206.4 502.7,207.3" fill="none" stroke="#f01c1c" stroke-width="2.6" stroke-linecap="round" stroke-linejoin="round"/><polyline points="492.6,210.2 494.5,211.4 496.4,212.7" fill="none" stroke="#f01c1c" stroke-width="2.6" stroke-linecap="round" stroke-linejoin="round"/><polyline points="500.2,212.7 504.0,213.3 507.1,213.9 510.3,213.9 513.5,214.6 516.0,215.8 517.2,217.7" fill="none" stroke="#f01c1c" stroke-width="2.8" stroke-linecap="round" stroke-linejoin="round"/><polyline points="497.7,213.3 499.6,215.8 501.5,218.4 504.0,219.6 506.5,219.0 509.0,218.4 511.6,218.4 514.1,219.0 516.0,221.5 516.6,223.4" fill="none" stroke="#1414f0" stroke-width="2.3" stroke-linecap="round" stroke-linejoin="round"/><polyline points="477.5,214.9 480.0,215.2 482.5,215.8 485.1,217.1 488.2,219.0 491.4,220.3 493.9,220.9 496.4,219.6 498.9,219.0" fill="none" stroke="#1414f0" stroke-width="1.7" stroke-linecap="round" stroke-linejoin="round"/><polyline points="481.9,215.2 482.8,215.5" fill="none" stroke="#f01c1c" stroke-width="1.7" stroke-linecap="round" stroke-linejoin="round"/><polyline points="492.6,219.9 494.5,221.5" fill="none" stroke="#f01c1c" stroke-width="1.7" stroke-linecap="round" stroke-linejoin="round"/><polyline points="521.7,220.9 522.9,220.6" fill="none" stroke="#f01c1c" stroke-width="1.4" stroke-linecap="round" stroke-linejoin="round"/><polyline points="515.4,222.8 516.6,223.7" fill="none" stroke="#1414f0" stroke-width="1.4" stroke-linecap="round" stroke-linejoin="round"/><polyline points="405.3,187.0 404.4,190.9 402.4,194.8 401.4,198.7 400.4,202.6 401.4,206.6 402.9,210.5 402.4,214.4 401.4,218.3 400.4,222.3 398.5,226.2 395.5,230.1 392.6,233.0 388.7,235.0 383.8,235.5 380.8,236.0 378.9,237.9 377.9,241.9 377.7,245.8" fill="none" stroke="#1414f0" stroke-width="3.1" stroke-linecap="round" stroke-linejoin="round"/><polyline points="406.3,187.9 407.8,190.9 407.3,192.8" fill="none" stroke="#f01c1c" stroke-width="2.6" stroke-linecap="round" stroke-linejoin="round"/><polyline points="403.4,193.8 404.4,196.8" fill="none" stroke="#f01c1c" stroke-width="2.2" stroke-linecap="round" stroke-linejoin="round"/><polyline points="400.4,201.7 399.5,208.5" fill="none" stroke="#f01c1c" stroke-width="1.3" stroke-linecap="round" stroke-linejoin="round"/><polyline points="398.5,219.3 396.5,222.3 393.6,226.2 391.6,229.1" fill="none" stroke="#f01c1c" stroke-width="2.6" stroke-linecap="round" stroke-linejoin="round"/><polyline points="383.8,234.5 380.8,235.0" fill="none" stroke="#f01c1c" stroke-width="2.2" stroke-linecap="round" stroke-linejoin="round"/><polyline points="377.9,236.0 376.9,239.9 377.4,243.8" fill="none" stroke="#f01c1c" stroke-width="2.6" stroke-linecap="round" stroke-linejoin="round"/><polyline points="391.6,232.1 393.6,234.0" fill="none" stroke="#f01c1c" stroke-width="1.3" stroke-linecap="round" stroke-linejoin="round"/><polyline points="401.4,212.5 402.4,214.4" fill="none" stroke="#00008c" stroke-width="0.9" stroke-linecap="round" stroke-linejoin="round"/><polyline points="372.8,232.8 373.4,233.2" fill="none" stroke="#ff9a9a" stroke-width="1.1" stroke-linecap="round" stroke-linejoin="round"/><polyline points="431.9,288.6 438.4,291.9 446.6,294.8 453.1,296.5 458.0,295.2" fill="none" stroke="#1414f0" stroke-width="4.1" stroke-linecap="round" stroke-linejoin="round"/><polygon points="445.0,290.3 454.8,291.9 454.8,296.8 446.6,296.8" fill="#9a9aff"/><polyline points="435.2,296.8 436.5,297.5" fill="none" stroke="#f01c1c" stroke-width="2.1" stroke-linecap="round" stroke-linejoin="round"/><polyline points="442.5,299.2 443.7,299.7" fill="none" stroke="#f01c1c" stroke-width="2.1" stroke-linecap="round" stroke-linejoin="round"/><polygon points="380.4,235.5 383.3,240.7 387.9,245.9 393.1,249.8 397.0,253.1 400.9,257.7 404.2,262.3 408.1,266.8 412.1,270.8 416.6,275.3 421.2,279.9 425.8,284.5 429.7,287.7 426.4,294.3 422.5,298.2 418.6,295.6 414.7,291.0 410.1,286.4 405.5,282.5 400.3,279.9 396.4,276.6 392.5,272.1 389.2,266.8 385.9,261.6 383.3,255.1 380.7,245.9 378.7,239.4 378.1,236.1" fill="#1414f0"/><polyline points="377.4,236.1 378.1,242.0 379.6,248.5 381.7,254.0 384.3,259.2 387.2,264.2" fill="none" stroke="#f01c1c" stroke-width="3.1" stroke-linecap="round" stroke-linejoin="round"/><polygon points="380.4,249.8 384.6,250.5 387.0,255.3 386.2,261.9 383.3,260.6 381.2,255.3" fill="#f01c1c"/><polyline points="380.7,235.7 385.9,234.9 391.1,233.4 395.1,230.2 397.7,226.3" fill="none" stroke="#1414f0" stroke-width="3.5" stroke-linecap="round" stroke-linejoin="round"/><polyline points="391.1,226.6 394.5,227.9" fill="none" stroke="#f01c1c" stroke-width="2.6" stroke-linecap="round" stroke-linejoin="round"/><polyline points="382.3,234.7 384.6,234.4" fill="none" stroke="#f01c1c" stroke-width="2.6" stroke-linecap="round" stroke-linejoin="round"/><polyline points="398.3,258.3 399.2,262.9 399.6,267.5" fill="none" stroke="#f01c1c" stroke-width="3.3" stroke-linecap="round" stroke-linejoin="round"/><polyline points="404.2,263.2 406.3,268.4 408.9,273.6 411.5,278.9" fill="none" stroke="#f01c1c" stroke-width="3.8" stroke-linecap="round" stroke-linejoin="round"/><polygon points="393.1,268.1 397.7,268.8 399.2,274.0 397.0,277.3 394.0,275.3" fill="#ffffff"/><polygon points="400.9,275.3 407.5,276.6 408.8,282.5 404.2,283.2 401.6,279.9" fill="#9a9aff"/><polyline points="392.5,277.3 397.7,281.2 402.9,283.2" fill="none" stroke="#1414f0" stroke-width="3.3" stroke-linecap="round" stroke-linejoin="round"/><polyline points="404.2,288.0 408.1,291.7 412.1,294.3" fill="none" stroke="#f01c1c" stroke-width="3.3" stroke-linecap="round" stroke-linejoin="round"/><polyline points="428.0,288.0 425.9,293.0 423.3,297.2" fill="none" stroke="#f01c1c" stroke-width="4.7" stroke-linecap="round" stroke-linejoin="round"/><polyline points="412.3,281.5 417.3,286.4 421.2,291.7 422.5,296.6" fill="none" stroke="#1414f0" stroke-width="4.7" stroke-linecap="round" stroke-linejoin="round"/><polyline points="372.6,232.8 373.4,233.4" fill="none" stroke="#f01c1c" stroke-width="1.6" stroke-linecap="round" stroke-linejoin="round"/><polyline points="389.8,268.1 391.8,270.1" fill="none" stroke="#f01c1c" stroke-width="2.4" stroke-linecap="round" stroke-linejoin="round"/><polyline points="394.4,257.7 395.7,256.4" fill="none" stroke="#f01c1c" stroke-width="2.1" stroke-linecap="round" stroke-linejoin="round"/><polyline points="388.5,257.7 392.5,259.2" fill="none" stroke="#00008c" stroke-width="1.6" stroke-linecap="round" stroke-linejoin="round"/><polyline points="414.7,286.4 419.9,290.4" fill="none" stroke="#00008c" stroke-width="1.6" stroke-linecap="round" stroke-linejoin="round"/><polyline points="425.0,287.6 432.1,289.0 439.1,291.2 443.4,294.7 448.3,296.1 451.9,294.7 453.3,291.9" fill="none" stroke="#1414f0" stroke-width="4.5" stroke-linecap="round" stroke-linejoin="round"/><polygon points="445.5,291.2 453.3,291.2 453.3,295.4 448.3,296.1 445.5,294.7" fill="#9a9aff"/><polyline points="426.4,290.5 427.8,294.7 427.1,298.2" fill="none" stroke="#f01c1c" stroke-width="5.1" stroke-linecap="round" stroke-linejoin="round"/><polyline points="456.1,287.6 457.5,291.9 456.8,295.4" fill="none" stroke="#f01c1c" stroke-width="3.8" stroke-linecap="round" stroke-linejoin="round"/><polyline points="454.7,281.3 457.5,280.6 459.7,282.0" fill="none" stroke="#f01c1c" stroke-width="2.5" stroke-linecap="round" stroke-linejoin="round"/><polyline points="478.7,265.0 480.2,270.7 478.7,275.6" fill="none" stroke="#f01c1c" stroke-width="4.5" stroke-linecap="round" stroke-linejoin="round"/><polyline points="451.9,269.2 456.1,270.7 460.4,272.8 464.6,274.2" fill="none" stroke="#1414f0" stroke-width="1.9" stroke-linecap="round" stroke-linejoin="round"/><polyline points="458.9,270.7 463.2,272.1" fill="none" stroke="#f01c1c" stroke-width="1.6" stroke-linecap="round" stroke-linejoin="round"/><polyline points="439.1,279.1 441.3,282.7 443.4,284.8" fill="none" stroke="#1414f0" stroke-width="1.9" stroke-linecap="round" stroke-linejoin="round"/><polyline points="437.7,277.7 439.1,278.4" fill="none" stroke="#f01c1c" stroke-width="1.6" stroke-linecap="round" stroke-linejoin="round"/><polyline points="443.4,284.1 446.2,285.5" fill="none" stroke="#f01c1c" stroke-width="1.6" stroke-linecap="round" stroke-linejoin="round"/><polyline points="448.3,282.0 451.9,284.1 454.0,285.5" fill="none" stroke="#1414f0" stroke-width="1.9" stroke-linecap="round" stroke-linejoin="round"/><polyline points="449.8,272.8 451.2,274.2" fill="none" stroke="#f01c1c" stroke-width="1.6" stroke-linecap="round" stroke-linejoin="round"/><polyline points="462.5,282.7 465.3,284.1 467.4,284.8" fill="none" stroke="#1414f0" stroke-width="1.9" stroke-linecap="round" stroke-linejoin="round"/><polyline points="464.6,282.0 466.7,282.7" fill="none" stroke="#f01c1c" stroke-width="1.3" stroke-linecap="round" stroke-linejoin="round"/><polyline points="466.0,295.4 467.4,298.2" fill="none" stroke="#1414f0" stroke-width="1.9" stroke-linecap="round" stroke-linejoin="round"/><polyline points="478.7,286.2 479.5,290.5 480.2,293.3" fill="none" stroke="#1414f0" stroke-width="1.9" stroke-linecap="round" stroke-linejoin="round"/><polyline points="474.5,266.4 475.9,268.5" fill="none" stroke="#1414f0" stroke-width="1.6" stroke-linecap="round" stroke-linejoin="round"/><polyline points="467.4,277.7 470.3,278.4" fill="none" stroke="#f01c1c" stroke-width="1.3" stroke-linecap="round" stroke-linejoin="round"/><polyline points="470.3,277.7 473.8,278.4" fill="none" stroke="#1414f0" stroke-width="1.6" stroke-linecap="round" stroke-linejoin="round"/><polyline points="434.9,301.8 437.0,300.4" fill="none" stroke="#1414f0" stroke-width="1.6" stroke-linecap="round" stroke-linejoin="round"/><polyline points="438.4,305.3 439.1,306.0" fill="none" stroke="#f01c1c" stroke-width="1.3" stroke-linecap="round" stroke-linejoin="round"/><polyline points="460.4,305.3 461.8,306.0" fill="none" stroke="#1414f0" stroke-width="1.3" stroke-linecap="round" stroke-linejoin="round"/><polyline points="472.5,251.3 473.7,255.2 474.7,259.1 475.6,263.0 476.4,266.9 476.9,270.9" fill="none" stroke="#1414f0" stroke-width="3.1" stroke-linecap="round" stroke-linejoin="round"/><polyline points="478.4,264.0 479.9,267.9 480.4,272.8" fill="none" stroke="#f01c1c" stroke-width="4.0" stroke-linecap="round" stroke-linejoin="round"/><polyline points="487.2,216.9 484.3,216.0 481.3,216.5 479.4,218.4 477.4,220.4 475.5,222.3 473.5,223.8" fill="none" stroke="#1414f0" stroke-width="1.9" stroke-linecap="round" stroke-linejoin="round"/><polyline points="482.3,215.5 483.3,216.0" fill="none" stroke="#f01c1c" stroke-width="1.9" stroke-linecap="round" stroke-linejoin="round"/><polyline points="477.4,219.9 478.9,218.9" fill="none" stroke="#f01c1c" stroke-width="1.9" stroke-linecap="round" stroke-linejoin="round"/><polyline points="470.5,226.7 470.1,228.7" fill="none" stroke="#1414f0" stroke-width="1.6" stroke-linecap="round" stroke-linejoin="round"/><polyline points="470.7,229.7 471.1,230.2" fill="none" stroke="#f01c1c" stroke-width="1.9" stroke-linecap="round" stroke-linejoin="round"/><polyline points="471.5,233.6 472.5,235.1" fill="none" stroke="#1414f0" stroke-width="1.6" stroke-linecap="round" stroke-linejoin="round"/><polyline points="474.3,237.0 474.7,237.5" fill="none" stroke="#f01c1c" stroke-width="1.9" stroke-linecap="round" stroke-linejoin="round"/><polyline points="473.0,240.0 472.5,241.0" fill="none" stroke="#1414f0" stroke-width="1.6" stroke-linecap="round" stroke-linejoin="round"/><polyline points="469.1,242.9 470.1,243.4" fill="none" stroke="#f01c1c" stroke-width="1.9" stroke-linecap="round" stroke-linejoin="round"/><polyline points="471.5,245.4 472.0,246.4" fill="none" stroke="#1414f0" stroke-width="1.6" stroke-linecap="round" stroke-linejoin="round"/><polyline points="472.5,246.4 473.0,247.3" fill="none" stroke="#f01c1c" stroke-width="1.9" stroke-linecap="round" stroke-linejoin="round"/><polyline points="472.0,248.3 472.5,250.3" fill="none" stroke="#1414f0" stroke-width="1.8" stroke-linecap="round" stroke-linejoin="round"/><polyline points="465.2,244.9 464.7,245.4" fill="none" stroke="#f01c1c" stroke-width="1.9" stroke-linecap="round" stroke-linejoin="round"/><polyline points="462.7,246.4 461.7,247.3" fill="none" stroke="#1414f0" stroke-width="1.6" stroke-linecap="round" stroke-linejoin="round"/><polyline points="459.0,252.4 459.3,253.2" fill="none" stroke="#f01c1c" stroke-width="1.9" stroke-linecap="round" stroke-linejoin="round"/><polyline points="457.8,257.6 457.6,258.6" fill="none" stroke="#1414f0" stroke-width="1.6" stroke-linecap="round" stroke-linejoin="round"/><polyline points="450.0,268.9 453.9,270.4" fill="none" stroke="#1414f0" stroke-width="1.9" stroke-linecap="round" stroke-linejoin="round"/><polyline points="450.9,271.4 451.9,271.8" fill="none" stroke="#f01c1c" stroke-width="1.9" stroke-linecap="round" stroke-linejoin="round"/><polyline points="459.8,270.4 460.7,270.9" fill="none" stroke="#f01c1c" stroke-width="1.9" stroke-linecap="round" stroke-linejoin="round"/><polyline points="462.7,272.3 463.7,272.8" fill="none" stroke="#1414f0" stroke-width="1.9" stroke-linecap="round" stroke-linejoin="round"/><polyline points="442.3,320.6 446.1,319.8 449.8,319.1 452.9,318.3" fill="none" stroke="#f01c1c" stroke-width="3.4" stroke-linecap="round" stroke-linejoin="round"/><polyline points="441.5,316.8 444.5,316.0" fill="none" stroke="#1414f0" stroke-width="2.0" stroke-linecap="round" stroke-linejoin="round"/><polyline points="454.4,313.8 456.7,315.3" fill="none" stroke="#1414f0" stroke-width="2.4" stroke-linecap="round" stroke-linejoin="round"/><polyline points="459.7,316.0 460.5,316.8" fill="none" stroke="#f01c1c" stroke-width="1.7" stroke-linecap="round" stroke-linejoin="round"/><polyline points="456.7,289.5 457.4,292.5 456.7,295.6" fill="none" stroke="#f01c1c" stroke-width="4.1" stroke-linecap="round" stroke-linejoin="round"/><polyline points="465.8,295.6 466.5,297.8" fill="none" stroke="#1414f0" stroke-width="2.0" stroke-linecap="round" stroke-linejoin="round"/><polyline points="460.5,305.8 461.2,306.2" fill="none" stroke="#1414f0" stroke-width="1.7" stroke-linecap="round" stroke-linejoin="round"/><polyline points="462.7,306.2 463.1,306.9" fill="none" stroke="#f01c1c" stroke-width="1.4" stroke-linecap="round" stroke-linejoin="round"/><polyline points="472.6,310.0 474.1,313.0 473.3,315.3" fill="none" stroke="#f01c1c" stroke-width="2.4" stroke-linecap="round" stroke-linejoin="round"/><polyline points="468.4,315.3 468.8,316.0" fill="none" stroke="#1414f0" stroke-width="1.7" stroke-linecap="round" stroke-linejoin="round"/><polyline points="477.9,290.3 478.6,292.5" fill="none" stroke="#1414f0" stroke-width="2.0" stroke-linecap="round" stroke-linejoin="round"/><polyline points="483.9,302.0 488.5,300.1" fill="none" stroke="#1414f0" stroke-width="2.0" stroke-linecap="round" stroke-linejoin="round"/><polyline points="491.5,298.6 496.1,296.3 498.3,295.6" fill="none" stroke="#f01c1c" stroke-width="2.4" stroke-linecap="round" stroke-linejoin="round"/><polyline points="486.2,304.7 487.3,309.2 487.7,312.2" fill="none" stroke="#f01c1c" stroke-width="2.0" stroke-linecap="round" stroke-linejoin="round"/><polyline points="487.7,321.3 488.5,322.1" fill="none" stroke="#f01c1c" stroke-width="1.4" stroke-linecap="round" stroke-linejoin="round"/><polyline points="493.8,321.3 494.5,322.8" fill="none" stroke="#f01c1c" stroke-width="1.7" stroke-linecap="round" stroke-linejoin="round"/><polyline points="496.1,325.1 497.6,325.9" fill="none" stroke="#1414f0" stroke-width="1.7" stroke-linecap="round" stroke-linejoin="round"/><polyline points="440.0,291.0 444.5,292.5 447.6,295.6" fill="none" stroke="#00008c" stroke-width="1.4" stroke-linecap="round" stroke-linejoin="round"/><polyline points="420.0,283.8 424.5,286.8 429.1,289.1 433.6,290.6 438.2,291.4 442.7,292.9 446.5,294.4 450.3,295.2" fill="none" stroke="#1414f0" stroke-width="4.1" stroke-linecap="round" stroke-linejoin="round"/><polygon points="445.0,291.7 452.6,291.4 453.3,295.2 448.8,296.3 445.0,295.2" fill="#9a9aff"/><polyline points="429.8,288.3 427.6,292.9 425.3,297.4" fill="none" stroke="#f01c1c" stroke-width="3.8" stroke-linecap="round" stroke-linejoin="round"/><polyline points="457.1,280.0 456.4,285.3 457.1,290.6 457.9,295.9" fill="none" stroke="#f01c1c" stroke-width="3.1" stroke-linecap="round" stroke-linejoin="round"/><polyline points="451.1,269.4 454.8,270.2 458.6,271.3" fill="none" stroke="#1414f0" stroke-width="2.7" stroke-linecap="round" stroke-linejoin="round"/><polyline points="455.6,273.9 460.9,274.7 465.5,275.1 468.5,275.5" fill="none" stroke="#1414f0" stroke-width="2.2" stroke-linecap="round" stroke-linejoin="round"/><polyline points="450.7,272.8 451.4,273.9" fill="none" stroke="#f01c1c" stroke-width="1.7" stroke-linecap="round" stroke-linejoin="round"/><polyline points="458.6,270.9 460.2,271.7" fill="none" stroke="#f01c1c" stroke-width="1.5" stroke-linecap="round" stroke-linejoin="round"/><polyline points="464.7,271.7 466.2,272.4" fill="none" stroke="#f01c1c" stroke-width="1.5" stroke-linecap="round" stroke-linejoin="round"/><polyline points="445.0,275.5 445.4,276.6" fill="none" stroke="#1414f0" stroke-width="1.9" stroke-linecap="round" stroke-linejoin="round"/><polyline points="440.5,279.2 440.8,280.4" fill="none" stroke="#1414f0" stroke-width="1.9" stroke-linecap="round" stroke-linejoin="round"/><polyline points="447.3,280.0 447.7,281.1" fill="none" stroke="#1414f0" stroke-width="1.9" stroke-linecap="round" stroke-linejoin="round"/><polyline points="446.5,285.3 446.9,286.4" fill="none" stroke="#1414f0" stroke-width="1.9" stroke-linecap="round" stroke-linejoin="round"/><polyline points="451.8,284.2 452.4,285.2" fill="none" stroke="#1414f0" stroke-width="1.9" stroke-linecap="round" stroke-linejoin="round"/><polyline points="437.4,283.0 437.9,283.8" fill="none" stroke="#1414f0" stroke-width="1.9" stroke-linecap="round" stroke-linejoin="round"/><polyline points="442.7,284.5 443.2,285.3" fill="none" stroke="#1414f0" stroke-width="1.9" stroke-linecap="round" stroke-linejoin="round"/><polyline points="438.9,277.7 439.4,278.3" fill="none" stroke="#f01c1c" stroke-width="1.8" stroke-linecap="round" stroke-linejoin="round"/><polyline points="448.8,281.9 449.2,282.4" fill="none" stroke="#f01c1c" stroke-width="1.8" stroke-linecap="round" stroke-linejoin="round"/><polyline points="444.2,284.2 444.7,284.7" fill="none" stroke="#f01c1c" stroke-width="1.8" stroke-linecap="round" stroke-linejoin="round"/><polyline points="438.2,286.1 438.6,286.7" fill="none" stroke="#f01c1c" stroke-width="1.8" stroke-linecap="round" stroke-linejoin="round"/><polyline points="445.0,277.7 445.5,278.2" fill="none" stroke="#f01c1c" stroke-width="1.8" stroke-linecap="round" stroke-linejoin="round"/><polyline points="474.5,256.5 475.3,261.1 476.1,265.6 476.8,269.4" fill="none" stroke="#1414f0" stroke-width="2.7" stroke-linecap="round" stroke-linejoin="round"/><polyline points="478.7,264.8 479.1,270.2 478.7,273.9" fill="none" stroke="#f01c1c" stroke-width="3.4" stroke-linecap="round" stroke-linejoin="round"/><polyline points="466.2,277.7 470.0,278.5 473.0,277.7" fill="none" stroke="#1414f0" stroke-width="2.0" stroke-linecap="round" stroke-linejoin="round"/><polyline points="463.9,283.0 467.0,284.5" fill="none" stroke="#1414f0" stroke-width="2.0" stroke-linecap="round" stroke-linejoin="round"/><polyline points="465.5,282.3 466.2,283.0" fill="none" stroke="#f01c1c" stroke-width="1.4" stroke-linecap="round" stroke-linejoin="round"/><polyline points="479.1,286.1 479.1,291.4" fill="none" stroke="#1414f0" stroke-width="2.0" stroke-linecap="round" stroke-linejoin="round"/><polyline points="465.5,295.2 466.2,296.3" fill="none" stroke="#1414f0" stroke-width="1.8" stroke-linecap="round" stroke-linejoin="round"/><polyline points="468.5,297.4 469.2,298.2" fill="none" stroke="#1414f0" stroke-width="1.8" stroke-linecap="round" stroke-linejoin="round"/><polyline points="453.3,266.4 454.8,267.1" fill="none" stroke="#00008c" stroke-width="1.2" stroke-linecap="round" stroke-linejoin="round"/><polyline points="442.7,286.1 445.0,286.8 447.3,287.2" fill="none" stroke="#00008c" stroke-width="1.1" stroke-linecap="round" stroke-linejoin="round"/></g>
<path d="M172.1,35.8 175.3,39.8 178.6,43.9 181.0,46.6 182.6,46.6 183.4,43.1 182.6,39.0 181.8,35.8M190.7,35.8 192.3,39.0 194.7,41.5 196.3,43.9 197.9,49.5 199.6,54.4 202.0,59.2 204.4,64.1 206.4,62.5 207.6,60.9 209.3,58.9 210.6,60.9 210.9,64.9 212.5,66.5 214.1,68.1 217.3,68.1 222.2,68.1 227.0,69.3 231.1,70.2 233.5,71.4 234.3,69.7 235.4,68.6 236.7,70.2 237.1,73.8 237.5,78.6 236.7,83.5 237.5,87.5 240.0,88.3 242.4,85.1 244.0,81.1 244.0,78.6 246.4,77.3 249.7,76.2 254.5,75.4 256.9,76.2 257.7,78.6 256.1,80.6 255.8,85.1 256.1,89.9 256.9,94.8 254.5,96.7 252.1,95.1 250.5,91.9 248.4,88.7 246.8,90.3 247.2,94.8 246.4,99.6 243.2,102.9 240.0,104.5 236.7,102.9 233.5,100.0 230.3,102.1 227.0,102.9 223.8,101.3 220.6,98.0 217.3,95.6 214.9,96.4 214.1,99.6 213.3,104.5 214.1,107.7 217.3,110.2 222.2,111.8 227.0,112.6 231.9,112.6 235.9,112.3 237.5,114.2 238.4,117.4 239.2,122.3 240.8,124.7 242.4,127.1 244.0,131.0M189.9,104.5 191.5,102.9 194.7,102.9 197.1,105.3 199.6,104.8 202.8,104.5 204.1,106.9 204.4,109.3 202.8,111.8 199.6,111.8 196.3,111.0 193.1,109.3 190.7,106.9 189.9,104.5M194.7,117.4 197.1,115.8 199.6,116.6 199.9,119.8 198.8,123.1 199.6,125.5 197.9,127.9 195.5,128.4 194.7,125.5 195.5,122.3 194.4,119.8 194.7,117.4M337.3,87.0 334.8,87.5 332.7,90.8 332.1,94.8 331.1,99.6 331.6,104.5 334.0,109.3 336.9,113.7 337.6,112.9 335.6,108.5 334.0,102.9 334.0,96.4 334.8,91.6 336.5,88.3 337.3,87.0M538.3,35.8 539.9,38.2 541.5,40.7 542.4,43.1 542.8,44.7 540.7,45.1 538.3,46.3 536.3,47.5 535.9,49.1 534.7,49.9 533.1,50.4 531.0,49.9 531.8,51.2 534.3,52.0 537.5,52.4 541.5,53.2 544.8,53.2 547.2,52.4 548.4,52.0 548.0,50.4 547.6,48.3 546.8,47.1 545.2,45.9 543.2,45.1M546.8,47.1 549.6,47.5 552.9,47.3 554.9,47.5 555.3,49.1 554.5,50.8 554.9,52.8 555.3,54.0 552.9,54.4 550.8,54.4 550.4,55.2 552.1,56.8 553.7,58.4 553.7,60.5 554.9,61.3 556.9,62.5 559.3,61.3 562.6,60.9 564.2,59.6 565.8,58.4 569.0,58.4 570.6,57.2 572.3,55.2 573.5,54.4 574.7,55.2 576.3,54.0 577.9,53.2 579.5,53.2 579.9,51.2 579.9,48.7 580.3,47.1 579.9,45.5 578.7,43.9 577.9,42.7 577.1,41.5 574.7,39.8 572.3,38.6 569.0,38.2 565.0,38.2 562.6,37.4 560.5,35.8M578.7,41.5 581.1,40.7 583.6,41.9 586.0,43.9 588.4,45.5 589.6,47.1 590.4,51.2M579.5,43.9 581.9,45.5 585.2,47.1 588.4,47.9 590.8,48.7M591.0,44.7 592.6,43.9 593.8,42.7 594.6,40.7 595.4,38.6 596.7,37.8 597.5,39.4 596.7,40.7 595.4,41.5M591.0,52.0 593.4,54.4 595.8,55.2 598.3,54.8 599.9,56.0 600.7,58.0 602.3,56.4 603.1,54.8 603.5,52.0 603.5,48.7 603.8,45.5 603.5,43.1 605.1,43.1 606.8,42.7 608.0,44.7 608.4,47.9 609.4,49.9 611.0,52.0 612.4,53.2 614.4,52.0 615.6,49.5 616.7,47.1 616.9,45.1 615.6,43.1 614.0,41.5 612.8,42.3 612.0,44.3 610.8,45.1 610.0,46.3 609.2,47.1M612.4,53.2 612.4,56.0 611.6,59.2 610.8,62.5 610.4,66.1 608.0,67.7 605.5,69.7 604.3,71.4 604.7,75.4 605.1,78.6 605.5,83.0M612.8,66.5 614.0,68.9 614.8,72.2 614.4,75.4 614.0,78.6 613.6,83.0M612.8,66.5 614.4,67.3 615.2,70.6 616.1,73.8 617.7,74.6 619.7,73.0 620.5,70.6 621.7,69.3 625.7,68.1 629.0,68.5 631.0,69.7 633.8,67.3 636.3,66.5 637.5,68.1 637.9,71.4 638.7,75.4 639.5,78.6 638.7,80.3 637.1,79.4 635.0,77.0 633.0,73.8 631.0,71.8 629.0,70.6 626.6,71.4 624.1,72.2 622.5,73.8 621.5,77.0 621.7,83.0M605.5,83.0 605.9,86.2 606.4,91.1 605.1,93.1 603.5,95.5 603.5,97.9 605.1,98.4 603.9,100.0 603.5,101.6 605.5,103.2 607.6,104.4 609.6,102.8 612.0,101.2 612.8,99.2 612.8,95.1 613.6,91.9 615.2,90.3 615.6,87.0 614.8,83.0M621.7,83.0 622.1,86.2 623.3,89.5 622.9,93.5 622.1,95.9 621.7,99.2 620.9,102.4 618.9,104.8 617.7,106.4 618.5,108.9 619.3,111.3 621.7,112.5 624.9,113.7 628.2,115.3 630.6,116.1 631.0,119.4 631.8,123.4 634.6,125.8 637.1,124.6 640.3,123.0 643.5,124.2 646.8,126.6 650.0,128.7 653.1,130.0M623.3,105.2 624.9,104.0 628.2,102.4 630.6,102.0 632.2,99.2 633.8,96.3 636.3,95.1 639.5,94.3 642.7,95.5 643.1,97.1 641.1,98.8 638.7,100.4 636.3,102.4 635.0,103.6 633.0,102.0 630.6,102.8 629.8,104.8 627.8,106.4 625.7,106.0 624.1,105.6 623.3,105.2M648.5,83.0 647.6,85.4 645.9,87.0 647.6,87.7 649.2,88.8 651.6,90.3 653.1,90.7M648.2,116.9 649.6,118.2 651.2,119.0 651.8,120.3M527.0,116.9 529.4,119.4 531.8,121.8 535.1,123.0 536.7,122.6 537.5,120.2 538.3,117.7 539.9,115.7 541.5,115.3 542.8,116.1 542.8,118.6 543.6,120.6 544.8,120.6 547.2,119.4 549.6,116.9 551.2,115.3 553.7,114.1 555.3,114.5 557.7,114.1 559.3,114.5 560.5,116.1 560.1,118.2 561.7,119.8 565.0,121.4 567.4,122.6 569.4,123.8 570.6,125.0 570.2,127.4 571.4,129.1 573.9,130.3 575.5,131.0M537.1,122.2 539.1,121.8 541.1,122.6 540.7,123.8 538.7,124.2 537.5,123.8 537.1,122.2M547.6,126.6 549.6,125.4 551.2,125.8 550.8,127.0 548.8,127.4 547.6,126.6M527.0,123.4 530.2,124.2 532.7,125.4 534.3,127.4 534.7,129.9 535.1,131.0M552.1,131.0 554.5,129.1 558.1,127.4 560.1,127.8 562.6,129.1 565.0,129.5 566.6,131.0M531.4,125.0 533.5,127.0 535.1,128.6 534.9,131.5 531.8,134.7 529.8,137.1 527.0,138.9M527.0,143.2 530.2,144.0 533.5,143.6 536.7,142.0 539.1,140.4 540.3,138.3 540.7,135.5 540.3,133.5 542.4,133.1 544.8,132.7 547.2,132.7 549.6,131.9 552.1,130.7 554.5,129.0 556.9,127.8 558.9,127.4 560.9,129.0 562.6,130.3 564.2,128.6 565.8,129.8 566.6,131.5 565.4,132.7 565.0,133.1 562.6,134.7 560.9,137.1 559.3,139.5 557.7,142.0 556.1,144.4 555.3,146.8 556.9,148.0 559.3,148.4 561.7,148.4 563.8,149.2 565.0,150.9 565.4,153.3 564.2,155.7 562.6,156.9 560.9,157.3 559.3,158.9 557.7,160.6 555.7,162.2 552.9,163.4 551.2,163.8 548.8,163.0 546.4,162.2 544.4,161.4 542.4,160.6 539.9,160.2 537.5,160.6 535.1,160.2 531.8,160.6 529.4,161.0 527.0,161.4M565.8,132.3 567.4,131.5 569.8,131.1 571.4,130.7 573.9,131.1 575.5,131.5 575.9,133.1 575.1,135.5 573.9,137.1 572.3,137.9 570.6,137.9 571.0,136.3 569.0,134.7 567.4,133.9 565.8,132.3M569.0,128.2 570.6,126.6 571.0,125.0M561.7,144.4 563.4,142.4 565.0,141.2 565.8,139.5 567.4,138.7 569.0,138.7 571.4,138.3 573.1,137.1 574.7,136.3 577.1,136.3 579.5,136.3 581.1,137.5 582.8,139.1 584.4,140.8 586.0,142.4 587.6,142.4 589.2,141.2 591.0,140.8M577.1,173.0 578.7,169.4 581.9,169.0 584.4,169.8 585.2,167.0 586.8,164.6 588.4,162.2 590.0,158.9 591.0,158.1M591.0,142.9 595.8,143.4 599.1,145.2 602.3,147.2 605.5,146.8 608.0,148.4 610.4,149.2 612.0,150.1 612.8,151.7 612.0,154.1 611.2,155.3 613.2,153.7 615.2,152.9 616.9,152.5 617.7,154.9 618.5,158.1 620.1,160.6 621.3,162.2 622.9,161.4 623.7,158.9 623.3,155.7 622.9,153.3 624.9,150.1 627.0,147.6 628.2,145.6 630.6,144.4 633.8,143.6 637.1,142.8 639.5,142.4 641.5,143.6 642.7,146.8 644.3,150.9 645.1,154.1 645.9,158.1 646.8,161.4 647.6,164.6 649.2,166.6 651.2,168.2 653.1,169.4M591.0,158.1 593.4,156.5 595.0,155.3 594.6,152.5 595.8,150.9 598.3,150.5 600.7,150.9 602.3,149.6 603.5,150.1 604.7,151.7 605.9,154.1 607.2,156.9 608.0,158.9 609.2,161.4 610.4,162.6 612.4,163.8 614.0,165.4 614.4,167.0 612.8,166.2 610.4,165.0 608.4,164.6 606.8,163.4 605.5,161.8 605.1,163.0 605.9,164.6 604.7,165.4 603.1,166.2 601.5,167.4 599.9,167.8 598.3,168.6 596.7,166.2 595.0,165.4 593.4,166.2 591.8,168.6 591.0,170.3M643.9,125.0 645.9,126.6 648.4,128.2 650.8,129.0 653.1,129.4M633.0,125.0 634.2,126.2 635.8,126.6 637.1,125.8M590.8,158.1 589.5,160.5 589.1,162.9 587.1,164.5 585.1,167.0 584.3,169.8 582.3,169.4 579.0,169.4 576.6,170.2 576.6,172.2 578.2,174.2 577.4,175.9 575.8,177.5 575.0,178.3 573.8,177.6 573.2,179.1 573.9,180.5 575.0,180.7 576.6,181.5 578.2,182.3 579.8,183.1 581.5,182.3 581.1,179.9 583.1,178.3 585.5,176.7 587.9,175.9 589.5,175.1 592.0,173.4 592.4,171.4 591.0,170.3M592.0,175.9 593.6,174.2 596.0,173.8 598.4,173.4 600.9,172.6 603.3,172.2 605.3,172.6 606.9,174.6 608.9,176.7 610.6,178.7 611.0,181.1 610.6,183.1 608.9,183.5 606.9,182.7 604.9,182.3 603.3,181.9 602.1,183.5 600.5,184.7 598.8,184.7 597.6,183.1 596.0,182.7 594.0,182.3 592.8,181.1 592.0,179.1 591.6,177.5 592.0,175.9M546.4,207.5 549.6,205.1 552.9,204.3 556.1,206.7 558.5,210.8 560.1,214.8 559.3,218.8 557.7,220.5 556.1,222.9 553.7,222.1 551.2,224.5 548.8,223.7 547.2,220.5 549.6,218.8 549.6,216.4 547.2,214.0 545.6,210.8 546.4,207.5M435.0,121.9 433.4,120.1 431.4,121.1 429.8,123.1 428.6,126.3 428.2,129.5 428.6,133.4 430.6,134.8 431.4,138.4 431.6,141.7 432.2,144.9 432.8,148.1 432.2,150.6 431.8,151.4M435.2,121.9 433.4,123.5 432.0,126.3 431.2,129.1 431.4,132.0 432.2,134.4 432.6,137.2 432.4,139.6 433.0,142.5 434.0,145.1 434.5,147.7 435.4,150.2 436.6,151.8 438.0,153.0 438.7,151.8 439.5,148.9 439.9,145.7 440.9,143.3 442.1,140.7 442.3,137.6 441.5,134.4 440.3,132.0 438.5,129.9 439.5,129.3 441.3,130.4 443.5,132.0 445.9,133.6 448.4,135.2 450.8,136.8 452.4,138.4 453.6,139.2 454.2,138.0 452.8,136.8 452.0,135.2 451.6,133.2 452.2,131.6 453.6,130.4 454.4,131.2 456.6,131.2 459.0,131.6 461.3,130.6 462.3,132.1 463.3,134.2 465.5,133.3 467.8,132.4 469.8,132.0 472.0,131.0 473.4,129.1 476.0,127.9 477.6,128.9 478.4,130.5 478.0,132.1 476.8,134.1 477.2,136.2 478.8,137.4 479.6,138.2 479.2,136.2 480.0,133.3 480.8,130.5 480.8,128.9 482.0,127.3 483.2,127.7 484.0,128.9 486.1,128.5 488.5,128.1 489.7,127.7 490.9,126.1 491.3,123.6 492.5,123.2 493.3,124.8 494.1,126.9 495.8,128.1 497.0,127.3 497.4,124.8 497.0,123.2 498.6,122.8 500.2,124.4 501.4,128.1 501.0,130.5 499.8,133.3 499.0,136.2 498.8,139.4M424.9,143.3 426.9,143.4 429.0,144.5 430.2,146.1 431.4,148.9 432.2,150.6M420.1,148.1 421.3,147.3 422.9,148.1 424.1,149.3 425.3,149.7 426.5,148.9 428.2,147.7 429.4,146.1M424.1,150.6 424.8,153.0 424.5,154.6 422.5,155.8 420.5,157.0 418.5,159.0 419.1,161.1 419.4,163.0M454.8,140.9 456.4,140.5 458.5,141.7 460.5,143.3 462.1,144.9 463.3,146.9 462.1,148.9 460.5,151.4 458.9,153.8 457.3,156.2 455.6,158.6 454.0,160.7 452.4,162.3 451.6,163.0M456.8,140.9 457.7,142.5 457.7,144.9 457.3,147.3 456.4,149.7 454.8,152.2 452.8,154.6 450.8,157.0 448.8,159.0 446.7,160.7 444.7,162.3 443.9,163.0M467.8,136.8 469.4,136.0 470.6,136.8 469.8,138.4 468.2,138.0 467.8,136.8M489.7,128.1 487.7,130.1 486.1,131.3 484.8,133.3 484.4,135.8 485.3,138.2 486.5,140.6 487.7,143.0 489.3,145.5 490.9,147.9 492.5,150.3 493.3,152.3 493.7,153.9 492.5,155.6 492.4,157.2 493.7,158.4 495.8,159.2 497.4,160.0 499.0,161.6 501.4,162.8 504.0,162.0M452.1,155.6 448.9,158.8 445.7,161.2 442.4,163.6 440.0,165.3M454.0,160.6 450.5,162.4 448.9,164.0 447.3,165.3 444.8,166.5 442.4,167.7 441.6,168.0M457.2,150.0 453.9,154.0 450.7,157.3 447.5,160.5 444.3,162.9 441.0,164.5 439.8,165.8 440.2,167.4 441.8,167.0 444.3,165.8 447.5,164.1 450.7,161.3 453.9,158.9 457.2,155.7 460.4,151.6 461.2,150.0M424.9,150.0 425.3,153.2 423.2,154.8 420.8,156.5 418.4,158.1 419.2,160.5 418.8,163.7 417.6,166.2 416.0,168.6 414.8,170.6 413.5,171.8M271.0,176.3 275.8,177.9 279.9,180.3 283.1,182.7 286.4,186.8 287.2,187.6 283.9,187.6 279.9,185.9 275.8,185.1 271.0,184.3M283.9,182.7 288.0,179.5 289.6,176.3 288.0,173.0 290.4,170.6 292.8,171.4 295.2,169.0 296.5,168.5 297.7,173.0 299.3,177.9 302.5,182.7 305.7,186.8 309.0,190.0 310.6,193.2 309.8,198.9 309.0,203.7 309.8,208.6 308.2,211.0 305.7,213.4 306.2,218.3 309.0,220.7 313.0,223.1 317.1,226.4 318.2,228.0M359.1,228.0 359.9,221.5 363.1,218.3 366.4,215.0 368.0,210.2 369.6,206.2 370.4,203.7 368.0,202.1 365.5,200.5 366.4,197.3 368.0,194.0 367.2,190.0 368.8,188.4 372.0,188.4 374.4,190.8 376.9,192.4 379.3,190.8 380.9,188.4 381.7,185.1 382.5,182.7 384.9,181.1 388.2,178.7 390.6,177.9 392.2,175.4 393.8,173.0 395.4,169.8 396.3,172.2 395.4,174.6 396.3,177.9 397.9,180.3 399.5,183.0M372.0,204.5 374.4,206.2 377.7,205.3 379.3,203.7 382.5,204.5 384.9,206.2 384.1,210.2 381.7,211.8 379.3,210.2 378.5,207.0 376.1,207.8 372.8,207.0 372.0,204.5M377.7,217.5 378.5,215.0 380.6,214.2 382.2,215.8 380.9,218.3 378.5,218.3M192.3,131.0 193.9,134.2 196.3,136.7 195.5,140.7 194.7,143.9 195.5,147.2 196.3,150.4 194.7,153.6 197.1,156.1 201.2,157.7 206.0,160.1 210.9,162.5 214.1,164.9 217.3,166.6 220.6,166.9 223.8,166.6 224.6,164.1 227.0,163.3 230.3,163.3 232.7,164.1 234.3,164.9 235.9,165.7 236.7,166.6M203.6,131.0 204.4,135.0 206.0,138.3 207.6,140.7 208.5,143.1 210.9,145.5 209.3,143.9 208.5,147.2 209.3,152.0 211.7,156.1 214.9,158.5 219.0,160.1 223.0,161.7 225.4,162.5M230.3,166.6 231.9,169.8 229.5,172.2 227.0,174.6 228.7,177.1 230.3,179.5 231.1,182.7 232.7,185.9 235.1,185.1 237.5,183.5 240.0,179.5 243.2,176.3 246.4,173.8 243.2,173.0 239.2,171.4 235.9,169.8 234.3,167.4 231.1,165.7M248.9,179.5 250.5,176.3 253.7,175.9 256.1,177.9 259.4,179.5 263.4,180.3 267.4,179.5 271.5,178.7M248.9,180.0 252.9,181.4 256.1,181.1 261.0,181.9 263.4,184.3 264.2,186.8 265.8,185.9 267.4,182.7 271.5,182.4M245.6,131.0 246.4,134.2 244.8,137.5 242.4,139.1 242.4,143.9 244.0,148.8 246.4,153.6 249.7,158.5 252.9,162.5 256.1,165.7 259.4,169.8 262.6,173.0 266.6,175.4 271.5,177.1M235.9,186.8 238.4,190.8 240.8,194.8 242.4,198.9 244.0,202.9 244.8,205.3M262.3,220.7 263.4,223.1 265.8,224.4 269.1,226.0 271.5,227.0M203.9,112.0 204.6,117.2 206.5,121.1 207.8,123.1 207.2,126.4 205.9,130.9 203.6,131.0M203.2,112.0 202.6,113.5 202.0,121.1 201.3,129.0 198.7,131.0 196.1,131.0 193.5,130.3 192.8,132.9 193.9,134.2M359.1,226.3 357.5,229.5 354.7,230.7 355.0,233.6 355.8,237.6 356.7,240.9 358.3,244.1 359.6,247.3 359.6,253.8 359.9,257.0 358.3,259.4 355.8,261.9 355.4,266.7 355.0,271.6 355.8,276.4 356.7,279.6 355.8,282.1 353.4,282.9 350.2,282.9 347.0,282.1 346.2,279.6 345.7,276.4 346.2,273.2 347.0,270.8 348.3,269.1 347.0,267.5 345.3,269.1 342.9,268.3 340.5,267.5 338.9,265.9 337.3,267.5 334.8,269.9 331.6,273.2 330.0,270.8 327.6,268.3 324.3,265.9 321.1,263.5 317.9,260.3 313.8,257.0 314.6,253.8 313.8,249.7 312.2,247.3 309.8,244.9 306.6,243.3 304.9,241.7 301.7,240.1 296.9,241.7 292.0,240.9 287.2,240.1 283.9,236.8 279.1,235.2 275.8,232.8 271.0,230.4 267.8,227.1 267.0,226.0 268.6,225.3 271.0,225.5 277.5,223.9 283.9,223.1 290.4,223.1 295.2,224.7 299.3,227.9 303.3,231.2 306.6,234.4 309.8,236.8 312.2,238.4 314.6,238.4 317.9,240.1 321.1,241.7 323.5,242.5 322.7,240.1 319.5,238.4 316.3,236.8 313.8,234.4 314.6,232.8 317.9,232.0 318.7,229.5 317.1,226.3M353.1,245.7 354.2,243.8 356.3,243.3 357.0,245.4 355.8,247.3 353.7,247.6 353.1,245.7M356.3,289.7 359.1,288.5 361.5,290.2 363.9,292.6 365.1,294.2 368.0,292.6 369.6,287.7 368.0,284.8 369.9,282.9 374.4,282.9 379.3,283.7 384.1,282.9 387.4,284.5 390.6,287.7 393.8,292.6 397.1,297.4 399.5,299.8M355.0,292.6 355.8,295.8 358.3,297.4 359.9,300.7 357.5,303.1 353.4,304.7 350.2,305.5 347.0,303.9 342.9,303.1 339.7,303.9 337.3,303.1 336.5,305.5 338.9,308.7 340.5,312.0 341.3,312.6 342.1,314.5 342.9,317.8 343.7,321.0 346.2,324.2 347.0,325.9 344.5,328.3 340.5,329.1 337.3,329.1 334.0,328.3 330.8,327.5 325.9,326.7 322.7,325.9 320.3,325.1 319.8,325.5 324.3,326.7 328.4,328.8 332.4,331.0 335.6,332.0 340.5,332.6 345.3,332.3 350.2,332.3 355.0,331.5 355.8,329.9 358.3,328.8 361.5,328.3 363.9,326.7 367.2,326.7 368.0,328.3 364.7,329.9 361.5,330.7 360.7,333.1 363.1,333.9 368.0,332.3 370.4,331.5 372.8,333.9 374.4,336.4 376.1,338.8 379.3,341.2 382.5,342.8 384.1,345.3 385.7,347.7 387.4,351.7 389.0,355.8 390.6,359.8 391.4,364.6 393.0,367.9 394.6,371.1 395.4,376.0 396.3,380.8 397.1,385.7 397.9,390.5 399.0,393.7 400.0,397.0M342.9,288.5 344.5,287.7 346.2,288.5 347.0,290.2 345.0,291.0 343.4,290.6 342.9,288.5M366.7,257.3 368.3,256.2 370.4,257.3 371.2,259.9 369.6,261.5 367.6,260.6 366.7,257.3M347.8,336.4 350.2,334.7 353.4,334.3 355.8,334.7 354.2,337.2 351.0,338.3 348.3,338.0 347.8,336.4M305.7,320.2 308.2,319.4 311.4,321.0 314.6,322.6M317.1,323.9 319.2,324.6M397.9,390.4 400.0,393.5 402.4,395.9 405.6,399.2 407.2,404.8 408.1,411.3 408.5,421.0M399.2,396.7 402.4,398.3 407.2,401.6 411.3,404.8 414.5,408.0 416.1,413.7 413.7,414.5 410.5,411.3 407.2,408.0 402.4,403.2 399.2,399.2 399.2,396.7M390.3,376.5 391.9,377.3 392.7,382.2 391.9,387.0 390.3,383.8 390.3,376.5M390.3,356.3 392.7,354.7 394.3,361.2 392.7,364.4 391.1,362.8 390.3,356.3M423.4,327.2 427.4,326.4 431.5,325.6 433.9,324.8 434.7,326.4 436.3,328.8 433.9,331.3 431.5,332.9 429.1,333.7 426.6,332.1 429.1,330.5 426.6,328.8 423.4,328.0 423.4,327.2M437.1,353.1 440.4,350.7 442.0,348.2 444.4,346.6 447.6,345.8 450.1,345.0 452.5,344.2 453.3,345.8 450.1,347.4 447.6,349.1 445.2,349.9 442.0,352.3 438.8,353.9 437.1,353.1M450.1,363.6 452.5,360.4 454.9,358.7 458.2,359.6 457.3,361.2 454.1,362.0 451.7,363.6 450.1,363.6M471.9,363.6 472.7,367.6 472.7,371.7 471.6,370.9 471.1,366.8 471.9,363.6M484.8,381.4 487.2,381.4 491.3,384.6 494.5,387.8 496.9,391.9 496.1,395.1 494.5,393.5 491.3,389.5 488.1,386.2 485.6,383.8 484.8,381.4M480.0,386.2 482.4,387.0 484.0,390.3 486.4,391.9 488.9,395.1 491.3,397.5 489.7,398.3 487.2,395.1 484.8,392.7 481.6,389.5 480.0,386.2M478.8,216.0 482.0,215.2 486.9,218.4 491.7,220.1 496.6,219.2 501.4,220.1 506.3,219.2 511.1,219.2 516.0,220.9 520.8,220.9 525.7,221.7 528.1,223.3 529.2,226.5 528.6,224.1 530.5,222.5 532.9,224.1 535.4,227.3 537.8,232.2 541.0,235.4 543.4,238.6 545.1,241.9 546.7,246.7 547.5,251.6 549.9,255.6 553.1,257.2 556.4,258.8 559.6,261.3 562.8,264.5 566.1,267.7 568.8,271.0 566.1,272.3 562.8,273.4 559.6,274.7 556.4,275.8 551.5,277.4 546.7,277.4 541.8,276.6 537.0,275.8 532.1,274.2 528.9,271.8 525.7,268.5 522.4,266.1 519.2,264.5 516.0,263.7 512.7,264.5 507.9,263.7 503.0,262.1 498.2,260.5 493.3,260.5 490.1,262.9 486.9,266.1 482.8,266.9 480.4,266.1 478.8,262.9 477.2,259.6 476.4,257.2 474.7,254.0 473.1,249.9 471.5,246.7 470.7,243.5 472.3,240.3 473.1,237.0 470.7,233.8 469.9,229.7 471.5,225.7 473.9,222.5 477.2,219.2 478.8,216.0M543.2,311.1 546.4,310.3 551.2,311.1 556.1,312.7 560.9,315.2 564.2,316.0 569.0,315.2 573.9,313.5 578.7,312.7 583.6,311.9 586.8,313.5 588.4,316.0 588.4,320.8 587.6,327.3 586.8,332.1 586.0,337.0M590.0,316.0 593.3,319.2 594.9,322.4 596.5,319.2 599.7,317.6 603.0,316.0 606.2,317.6 609.4,316.8 612.7,317.6 615.1,320.0 614.3,322.4 611.0,324.0 609.4,327.3 606.2,330.5 603.0,332.9 599.7,337.0M590.0,316.0 591.6,320.8 594.9,327.3 597.3,332.1 598.9,337.0M527.0,299.8 530.2,299.0 533.5,300.6 534.3,303.0 531.8,304.6 530.2,305.5 533.5,307.1 531.8,309.5 527.0,311.1M483.2,282.9 487.2,282.1 488.9,284.5 493.7,285.4 500.2,284.5 505.0,286.2 508.3,285.4 511.5,287.8 516.3,287.0 521.2,287.0 524.4,288.6 526.8,291.8 526.0,294.2 521.2,295.1 519.6,296.7 524.4,298.3 529.3,299.1 532.5,300.7 534.1,303.1 531.7,304.7 527.6,305.6 530.9,307.2 534.1,308.0 532.5,309.6 527.6,310.4 522.8,309.6 517.9,310.4 514.7,312.0 511.5,313.6 508.3,314.4 507.4,312.0 509.9,308.8 510.7,304.7 509.1,301.5 506.6,299.1 503.4,297.5 500.2,296.7 496.9,296.7 494.5,296.7 491.3,300.7 488.9,303.9 487.2,307.2 488.1,311.2 489.7,314.4 492.1,316.9 496.1,316.9M496.1,316.9 500.2,318.5 504.2,318.5 507.4,320.1 507.4,322.5 501.8,323.3 497.7,324.9 495.3,326.6 492.9,328.2 490.5,329.8 488.9,331.4 487.2,334.6 488.1,339.5 487.2,344.3 488.9,349.2 491.3,354.0 495.3,358.1 501.8,359.7 508.3,358.9 514.7,358.1 521.2,357.3 526.0,358.9 529.3,361.3 530.9,363.7 532.5,367.0M542.2,367.0 540.6,362.9 535.7,360.5 534.1,358.1 533.3,354.0 534.1,350.8 534.1,346.0 533.3,342.7 530.9,339.5 527.6,337.9 524.4,336.3 522.0,333.8 519.6,329.8 516.3,325.8 515.5,321.7 516.3,320.1 521.2,318.5 527.6,316.1 532.5,316.9 537.3,318.5 542.2,320.1 545.4,321.7 546.2,316.9 543.8,312.8 547.0,311.2M591.5,316.9 589.9,318.5 589.1,323.3 588.3,329.8 586.6,334.6 584.2,337.9 581.8,342.7 579.4,347.6 577.7,354.0 576.1,360.5 575.3,367.0M581.8,341.1 584.2,339.5 587.4,338.7 588.7,339.8 585.8,341.4 582.6,342.2 581.8,341.1M579.4,351.6 582.6,349.2 585.8,348.4 589.1,350.8 591.5,352.4M501.5,301.5 502.6,299.4 504.7,299.4 505.8,301.5 504.2,303.9 502.1,303.5 501.5,301.5M487.2,340.0 486.0,344.8 488.5,352.1 493.3,355.8 498.2,359.4 504.2,359.4 511.5,359.4 518.8,358.2 524.8,359.4 528.5,361.8 532.1,364.2 535.7,366.7 540.6,369.1 541.8,364.2 538.2,360.6 534.5,357.0 533.3,352.1 535.7,348.5 534.5,343.6 532.1,340.0M516.3,406.7 520.0,401.8 523.6,395.8 527.2,392.1 532.1,390.9 536.9,393.3 540.6,397.0 538.2,399.4 533.3,399.4 528.5,400.6 524.8,403.0 521.2,405.5 517.5,407.4 516.3,406.7M534.5,404.2 535.7,410.3 538.2,415.2 540.1,421.2M541.1,421.2 543.0,415.2 541.8,409.1 543.5,403.5 546.6,400.6M543.5,398.2 547.8,395.8 553.9,393.3 558.8,395.8 560.0,398.2 556.3,399.4 553.9,403.0 555.1,406.7 552.7,407.9 549.1,404.2 545.4,401.8 543.5,398.2M556.3,415.6 560.0,411.5 564.8,406.7 568.5,403.0 567.2,405.9 563.6,410.3 560.0,413.9 556.3,415.6M563.6,400.6 567.2,395.8 570.9,392.1 573.3,390.9 574.5,393.3 570.9,397.0 567.2,400.6 563.6,400.6M576.9,367.9 575.7,359.4 576.9,349.7 579.4,344.8 583.0,342.4 585.4,349.7 589.1,352.1 593.9,350.9 598.8,347.3 601.2,343.6 603.6,341.9 607.2,343.6 606.0,347.3 603.6,352.1 602.4,357.0 601.2,364.2 598.8,365.5 596.3,360.6 595.1,364.2 592.7,371.5 591.5,378.8 593.9,383.6 597.5,386.1 595.1,388.5 591.5,392.1 590.3,398.2 589.1,403.0 590.3,409.1 589.1,412.7 587.8,415.2 590.3,418.8 591.5,421.2M399.5,183.0 402.1,183.2 405.8,182.6 408.2,183.2 411.2,185.0 413.0,186.8 415.5,187.7 417.3,187.1 418.5,188.0 420.3,189.2 422.1,190.2 423.9,191.1 425.2,189.8 424.5,188.0 423.9,185.6M413.5,171.8 411.0,174.5 410.0,177.5 410.5,180.5 411.5,183.5 411.2,185.0M399.5,299.8 400.8,300.7 402.8,301.9 404.0,303.9 405.6,306.4 407.2,308.8 408.9,310.0 410.5,309.2 412.9,309.6 415.3,308.4 417.7,308.0 419.8,306.8 420.6,305.6 421.4,307.6 422.6,308.0 424.2,309.6 425.0,311.2 426.6,312.0 428.3,312.0 430.7,311.6 432.3,311.6 433.9,312.0 434.7,312.8 436.3,314.0 438.8,315.3 440.4,316.1 442.8,316.9 445.2,317.7 447.0,318.0M469.3,188.7 471.3,188.2 473.3,189.7 475.4,191.7 476.4,193.2 477.9,190.2 478.9,184.6 480.4,184.1 482.4,186.2 484.4,186.7 486.5,186.2 487.5,187.7 486.0,190.2 484.4,192.2 483.4,194.7 481.4,196.8 479.9,198.3 478.4,197.3 476.4,195.8 473.8,194.2 471.3,193.2 469.8,191.2 469.3,188.7M432.1,283.4 434.2,281.3 437.0,279.9 439.1,277.7 442.0,276.3 444.8,274.9 446.9,274.2 448.3,275.6 446.2,277.0 443.4,279.1 441.3,281.3 439.1,283.4 437.0,284.8 434.2,284.8 432.1,283.4M439.1,286.2 442.7,285.5 446.2,286.2 449.8,286.9 453.3,286.2 455.4,284.8 457.5,283.4 459.7,281.3 458.2,279.9 456.1,280.6 453.3,282.0 449.8,282.7 446.2,283.4 442.7,284.1 439.1,286.2M449.0,270.7 451.9,268.5 454.7,267.1 457.5,266.4 459.7,267.8 461.8,270.0 464.6,271.4 467.4,270.7 470.3,272.1 473.1,274.2 475.9,275.6 478.7,277.0 481.2,278.4M460.4,279.1 463.2,278.4 466.0,279.1 468.8,279.9 471.7,280.6 474.5,281.3 477.3,280.6 480.2,279.1 481.2,278.4M461.8,281.3 462.5,284.8 464.6,286.2 467.4,286.9 470.3,286.2 471.7,284.8 470.3,282.7 467.4,282.0 464.6,281.3 461.8,281.3M454.7,298.2 456.8,295.4 458.9,293.3 461.8,291.9 464.6,291.2 467.4,290.5 469.6,289.0 471.7,287.6 474.5,286.2 478.0,284.8 481.2,284.1M427.8,301.8 430.0,298.9 432.1,298.2 434.9,299.7 437.7,301.8 439.1,304.6 440.6,307.4M455.4,300.4 457.5,303.2 460.4,305.3 463.2,307.4M464.6,293.3 467.4,295.4 470.3,298.2 473.1,300.4 475.9,303.2 478.7,304.6 481.2,305.3M474.5,289.0 475.9,287.6 478.7,286.2 481.2,285.5M474.5,293.3 477.3,296.1 480.2,298.2 481.2,298.9M464.6,265.0 465.7,267.8 465.3,270.7M442.7,267.1 446.2,266.4 448.3,267.8 446.9,269.2 444.1,269.2 442.7,267.1M470.5,245.4 468.6,243.4 466.6,243.9 464.7,244.9 462.7,246.4 460.7,248.3 459.3,250.8 458.3,253.2 457.8,256.2 457.3,259.1 456.8,262.0 455.8,265.0 453.9,267.4 451.9,268.9 450.0,270.4 448.0,270.9M457.8,261.1 460.7,260.1 463.7,259.1 466.1,257.1 465.2,260.1 463.7,262.0 462.7,264.0 464.7,266.0 466.1,267.9 466.6,270.9 465.6,272.8M477.4,223.8 479.4,222.8 481.3,223.8 482.5,225.3 480.4,225.8 478.4,226.7 477.4,224.8M504.0,162.0 508.9,163.5 513.7,164.3 518.6,165.1 521.8,163.5 527.0,161.4M527.0,138.9 521.8,139.3 517.0,140.1 513.7,141.7 513.7,144.1 515.4,145.7 518.6,145.7 521.8,144.9 527.0,143.2M527.0,116.9 524.0,116.5 521.8,118.0 521.8,121.5 524.0,123.5 527.0,123.4M514.0,116.0 517.0,114.2 519.4,116.0 519.0,120.0 516.0,121.5 513.7,119.5 514.0,116.0M498.8,139.4 496.8,137.0 495.5,133.5 493.0,131.0 490.5,129.0 489.7,128.1M648.5,83.0 651.0,82.0 654.0,81.0M441.5,321.3 445.0,319.8 448.3,318.3 452.0,317.0 455.2,316.3 458.2,315.6 460.5,316.8 459.0,318.3 460.5,319.5 463.0,320.2 465.8,320.2 468.0,319.0 468.8,317.5 471.0,316.5 473.3,317.5 474.8,315.3 475.5,313.0 477.0,311.0 480.0,311.0 484.0,312.0 487.7,313.0 489.5,315.5 491.5,316.8 494.0,317.0 496.1,316.9M455.2,294.1 454.4,297.8 455.2,301.6 455.9,304.7 456.7,306.9 458.9,308.5 461.2,309.2 462.7,310.0 462.7,312.2 462.0,314.5 460.5,316.8M462.7,291.0 465.0,290.3 468.0,289.5 470.3,289.1 471.1,291.0 471.1,294.1 470.3,297.1 468.8,299.4 468.0,301.6 468.4,304.7 468.8,306.9 470.3,308.5 472.6,309.2 474.8,310.7 475.6,313.0 474.8,315.3M474.1,288.0 474.5,291.0 474.8,294.1 476.4,297.1 479.4,299.4 482.4,300.9 485.5,301.6 488.5,300.9 491.5,299.4 494.5,297.1 497.6,295.6 500.2,295.2M476.4,305.4 478.6,306.9 480.9,309.2 483.2,310.7 485.5,312.2 487.7,313.0 488.5,310.7 487.7,307.7 487.0,305.4 485.5,303.2M491.5,301.6 493.0,303.2 494.5,305.4 496.1,307.7 496.8,310.7 496.1,313.8 494.5,315.3 493.0,316.0 491.5,316.8 492.3,318.3 493.8,320.6 496.1,322.8 498.3,325.1 500.2,325.9M431.2,293.4 429.5,296.0 428.2,299.3 428.5,301.5 429.0,303.7 430.5,305.5 431.9,306.6 434.0,305.8 435.6,304.4 436.5,302.0 437.1,300.0 438.5,298.5 440.0,297.1 439.5,295.0 438.5,293.4 436.5,292.0 434.9,291.5 432.6,291.9 431.2,293.4M444.4,291.2 447.0,289.8 449.6,289.0 452.0,289.5 454.0,290.4 455.1,293.4 454.7,297.1 455.0,299.5 456.2,301.5 457.5,304.0 459.1,306.6 462.1,307.4 463.5,305.8 464.3,303.7M432.6,282.4 434.1,280.9 437.1,279.4 439.3,277.9 442.2,277.2 444.4,276.5 446.6,275.7 447.0,278.0 444.0,280.5 441.5,283.5 439.3,286.8 436.5,286.0 434.1,284.6 432.6,282.4M506.0,113.0 508.0,114.5 507.0,117.0 508.0,119.5 506.0,122.0 504.8,120.0 505.5,117.0 505.0,115.0 506.0,113.0M170.3,77.5 171.3,79.5 172.8,81.7M177.3,90.5 177.8,92.0 178.3,93.0M189.4,91.0 188.6,92.3 187.9,93.5" fill="none" stroke="#000" stroke-width="0.8" stroke-linejoin="round"/>
</g>
<path d="M143.5,420.1V35.5H653.1" fill="none" stroke="#000" stroke-width="1.1"/>
<path d="M653.1,35V420.1H143" fill="none" stroke="#1a1a1a" stroke-width="1.4"/>
<text transform="translate(121.6,114.87) scale(1,1.12)" font-size="15" text-anchor="end">135°E</text>
<text transform="translate(121.6,198.44) scale(1,1.12)" font-size="15" text-anchor="end">150°E</text>
<text transform="translate(121.6,277.43) scale(1,1.12)" font-size="15" text-anchor="end">165°E</text>
<text transform="translate(121.6,363.43) scale(1,1.12)" font-size="15" text-anchor="end">180°</text>
<text transform="translate(674.5,59.73) scale(1,1.12)" font-size="15">15°E</text>
<text transform="translate(674.5,136.36) scale(1,1.12)" font-size="15">0°</text>
<text transform="translate(674.5,196.66) scale(1,1.12)" font-size="15">15°W</text>
<text transform="translate(674.5,252.04) scale(1,1.12)" font-size="15">30°W</text>
<text transform="translate(674.5,310.64) scale(1,1.12)" font-size="15">45°W</text>
<text transform="translate(674.5,382.67) scale(1,1.12)" font-size="15">60°W</text>
<path d="M132.0,109.2H143.0M132.0,192.8H143.0M132.0,271.8H143.0M132.0,357.8H143.0M653.0,54.1H664.0M653.0,130.7H664.0M653.0,191.0H664.0M653.0,246.4H664.0M653.0,305.0H664.0M653.0,377.0H664.0" stroke="#000" stroke-width="1.1" fill="none"/>
<text transform="translate(523.2,438.7) scale(1,1.05)" font-size="14.05" font-weight="bold">Sea Ice</text>
<text transform="translate(523.2,454.5) scale(1,1.05)" font-size="14.05" font-weight="bold">Valid: 2006092300Z</text>
<text transform="translate(291.8,477.5) scale(1,1.09)" font-size="17.45">Fraction - Binary Difference</text>
<rect x="149.20" y="489.8" width="45.59" height="33.9" fill="#00007f"/>
<rect x="194.49" y="489.8" width="45.59" height="33.9" fill="#0000b3"/>
<rect x="239.78" y="489.8" width="45.59" height="33.9" fill="#0000e6"/>
<rect x="285.07" y="489.8" width="45.59" height="33.9" fill="#3333ff"/>
<rect x="330.36" y="489.8" width="45.59" height="33.9" fill="#9999ff"/>
<rect x="375.65" y="489.8" width="45.59" height="33.9" fill="#ffffff"/>
<rect x="420.95" y="489.8" width="45.59" height="33.9" fill="#ff9999"/>
<rect x="466.24" y="489.8" width="45.59" height="33.9" fill="#ff3333"/>
<rect x="511.53" y="489.8" width="45.59" height="33.9" fill="#e60000"/>
<rect x="556.82" y="489.8" width="45.59" height="33.9" fill="#b30000"/>
<rect x="602.11" y="489.8" width="45.59" height="33.9" fill="#800000"/>
<text transform="translate(199.1,549.1) scale(1,1.05) rotate(-90)" font-size="12.8" text-anchor="middle">-0.49</text>
<text transform="translate(244.4,549.1) scale(1,1.05) rotate(-90)" font-size="12.8" text-anchor="middle">-0.4</text>
<text transform="translate(289.7,549.1) scale(1,1.05) rotate(-90)" font-size="12.8" text-anchor="middle">-0.3</text>
<text transform="translate(335.0,549.1) scale(1,1.05) rotate(-90)" font-size="12.8" text-anchor="middle">-0.2</text>
<text transform="translate(380.3,549.1) scale(1,1.05) rotate(-90)" font-size="12.8" text-anchor="middle">-0.1</text>
<text transform="translate(425.5,549.1) scale(1,1.05) rotate(-90)" font-size="12.8" text-anchor="middle">0.1</text>
<text transform="translate(470.8,549.1) scale(1,1.05) rotate(-90)" font-size="12.8" text-anchor="middle">0.2</text>
<text transform="translate(516.1,549.1) scale(1,1.05) rotate(-90)" font-size="12.8" text-anchor="middle">0.3</text>
<text transform="translate(561.4,549.1) scale(1,1.05) rotate(-90)" font-size="12.8" text-anchor="middle">0.4</text>
<text transform="translate(606.7,549.1) scale(1,1.05) rotate(-90)" font-size="12.8" text-anchor="middle">0.49</text>
</svg></body></html>
